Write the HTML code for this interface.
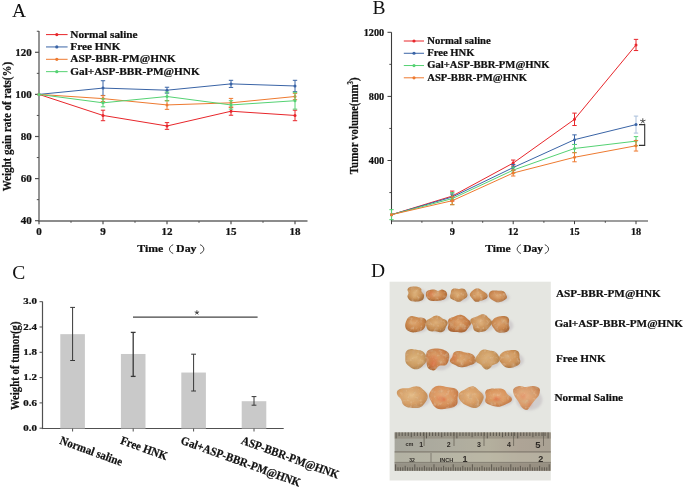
<!DOCTYPE html>
<html><head><meta charset="utf-8"><style>
html,body{margin:0;padding:0;background:#fff;}
svg{display:block;font-family:"Liberation Serif", serif;filter:blur(0.4px);}
</style></head><body>
<svg width="685" height="487" viewBox="0 0 685 487">
<rect width="685" height="487" fill="#fff"/>
<text transform="translate(12.00,16.80) scale(1.000,1)" font-size="19.5" font-weight="normal" text-anchor="start" fill="#111" >A</text>
<line x1="39.00" y1="31.00" x2="39.00" y2="221.60" stroke="#666" stroke-width="1.4" />
<line x1="38.40" y1="221.00" x2="307.50" y2="221.00" stroke="#666" stroke-width="1.4" />
<line x1="35.00" y1="220.70" x2="39.00" y2="220.70" stroke="#505050" stroke-width="1.2" />
<text transform="translate(31.80,224.00) scale(1.150,1)" font-size="9.6" font-weight="bold" text-anchor="end" fill="#111" stroke="#111" stroke-width="0.22" >40</text>
<line x1="35.00" y1="178.60" x2="39.00" y2="178.60" stroke="#505050" stroke-width="1.2" />
<text transform="translate(31.80,181.90) scale(1.150,1)" font-size="9.6" font-weight="bold" text-anchor="end" fill="#111" stroke="#111" stroke-width="0.22" >60</text>
<line x1="35.00" y1="136.50" x2="39.00" y2="136.50" stroke="#505050" stroke-width="1.2" />
<text transform="translate(31.80,139.80) scale(1.150,1)" font-size="9.6" font-weight="bold" text-anchor="end" fill="#111" stroke="#111" stroke-width="0.22" >80</text>
<line x1="35.00" y1="94.40" x2="39.00" y2="94.40" stroke="#505050" stroke-width="1.2" />
<text transform="translate(31.80,97.70) scale(1.150,1)" font-size="9.6" font-weight="bold" text-anchor="end" fill="#111" stroke="#111" stroke-width="0.22" >100</text>
<line x1="35.00" y1="52.30" x2="39.00" y2="52.30" stroke="#505050" stroke-width="1.2" />
<text transform="translate(31.80,55.60) scale(1.150,1)" font-size="9.6" font-weight="bold" text-anchor="end" fill="#111" stroke="#111" stroke-width="0.22" >120</text>
<line x1="36.80" y1="199.65" x2="39.00" y2="199.65" stroke="#505050" stroke-width="1.0" />
<line x1="36.80" y1="157.55" x2="39.00" y2="157.55" stroke="#505050" stroke-width="1.0" />
<line x1="36.80" y1="115.45" x2="39.00" y2="115.45" stroke="#505050" stroke-width="1.0" />
<line x1="36.80" y1="73.35" x2="39.00" y2="73.35" stroke="#505050" stroke-width="1.0" />
<line x1="36.80" y1="31.25" x2="39.00" y2="31.25" stroke="#505050" stroke-width="1.0" />
<line x1="39.00" y1="221.00" x2="39.00" y2="224.20" stroke="#505050" stroke-width="1.2" />
<text transform="translate(39.00,235.20) scale(1.150,1)" font-size="9.6" font-weight="bold" text-anchor="middle" fill="#111" stroke="#111" stroke-width="0.22" >0</text>
<line x1="103.00" y1="221.00" x2="103.00" y2="224.20" stroke="#505050" stroke-width="1.2" />
<text transform="translate(103.00,235.20) scale(1.150,1)" font-size="9.6" font-weight="bold" text-anchor="middle" fill="#111" stroke="#111" stroke-width="0.22" >9</text>
<line x1="167.00" y1="221.00" x2="167.00" y2="224.20" stroke="#505050" stroke-width="1.2" />
<text transform="translate(167.00,235.20) scale(1.150,1)" font-size="9.6" font-weight="bold" text-anchor="middle" fill="#111" stroke="#111" stroke-width="0.22" >12</text>
<line x1="231.00" y1="221.00" x2="231.00" y2="224.20" stroke="#505050" stroke-width="1.2" />
<text transform="translate(231.00,235.20) scale(1.150,1)" font-size="9.6" font-weight="bold" text-anchor="middle" fill="#111" stroke="#111" stroke-width="0.22" >15</text>
<line x1="295.00" y1="221.00" x2="295.00" y2="224.20" stroke="#505050" stroke-width="1.2" />
<text transform="translate(295.00,235.20) scale(1.150,1)" font-size="9.6" font-weight="bold" text-anchor="middle" fill="#111" stroke="#111" stroke-width="0.22" >18</text>
<line x1="71.00" y1="221.00" x2="71.00" y2="222.80" stroke="#505050" stroke-width="1.0" />
<line x1="135.00" y1="221.00" x2="135.00" y2="222.80" stroke="#505050" stroke-width="1.0" />
<line x1="199.00" y1="221.00" x2="199.00" y2="222.80" stroke="#505050" stroke-width="1.0" />
<line x1="263.00" y1="221.00" x2="263.00" y2="222.80" stroke="#505050" stroke-width="1.0" />
<text transform="translate(137.20,252.10) scale(1.080,1)" font-size="11.0" font-weight="bold" text-anchor="start" fill="#111" stroke="#111" stroke-width="0.22" >Time</text>
<path d="M173.20,244.70 C168.20,246.70 168.20,251.50 173.20,253.50" fill="none" stroke="#222" stroke-width="0.9"/>
<text transform="translate(176.10,252.10) scale(1.080,1)" font-size="11.0" font-weight="bold" text-anchor="start" fill="#111" stroke="#111" stroke-width="0.22" >Day</text>
<path d="M200.10,244.70 C205.10,246.70 205.10,251.50 200.10,253.50" fill="none" stroke="#222" stroke-width="0.9"/>
<text transform="translate(11.0,126.6) rotate(-90) scale(1.01,1.2)" font-size="10.9" font-weight="bold" text-anchor="middle" fill="#111" stroke="#111" stroke-width="0.2">Weight gain rate of rats(%)</text>
<polyline points="39.00,94.40 103.00,115.45 167.00,125.98 231.00,111.24 295.00,115.45" fill="none" stroke="#e8262b" stroke-width="1.0" stroke-linejoin="round"/>
<circle cx="39.00" cy="94.40" r="1.5" fill="#e8262b"/>
<line x1="103.00" y1="110.19" x2="103.00" y2="120.71" stroke="#e8262b" stroke-width="1.0" />
<line x1="100.80" y1="110.19" x2="105.20" y2="110.19" stroke="#e8262b" stroke-width="1.0" />
<line x1="100.80" y1="120.71" x2="105.20" y2="120.71" stroke="#e8262b" stroke-width="1.0" />
<circle cx="103.00" cy="115.45" r="1.5" fill="#e8262b"/>
<line x1="167.00" y1="122.61" x2="167.00" y2="129.34" stroke="#e8262b" stroke-width="1.0" />
<line x1="164.80" y1="122.61" x2="169.20" y2="122.61" stroke="#e8262b" stroke-width="1.0" />
<line x1="164.80" y1="129.34" x2="169.20" y2="129.34" stroke="#e8262b" stroke-width="1.0" />
<circle cx="167.00" cy="125.98" r="1.5" fill="#e8262b"/>
<line x1="231.00" y1="107.24" x2="231.00" y2="115.24" stroke="#e8262b" stroke-width="1.0" />
<line x1="228.80" y1="107.24" x2="233.20" y2="107.24" stroke="#e8262b" stroke-width="1.0" />
<line x1="228.80" y1="115.24" x2="233.20" y2="115.24" stroke="#e8262b" stroke-width="1.0" />
<circle cx="231.00" cy="111.24" r="1.5" fill="#e8262b"/>
<line x1="295.00" y1="110.19" x2="295.00" y2="120.71" stroke="#e8262b" stroke-width="1.0" />
<line x1="292.80" y1="110.19" x2="297.20" y2="110.19" stroke="#e8262b" stroke-width="1.0" />
<line x1="292.80" y1="120.71" x2="297.20" y2="120.71" stroke="#e8262b" stroke-width="1.0" />
<circle cx="295.00" cy="115.45" r="1.5" fill="#e8262b"/>
<polyline points="39.00,94.40 103.00,88.09 167.00,90.19 231.00,83.88 295.00,85.98" fill="none" stroke="#3a64a6" stroke-width="1.0" stroke-linejoin="round"/>
<circle cx="39.00" cy="94.40" r="1.5" fill="#3a64a6"/>
<line x1="103.00" y1="80.72" x2="103.00" y2="95.45" stroke="#3a64a6" stroke-width="1.0" />
<line x1="100.80" y1="80.72" x2="105.20" y2="80.72" stroke="#3a64a6" stroke-width="1.0" />
<line x1="100.80" y1="95.45" x2="105.20" y2="95.45" stroke="#3a64a6" stroke-width="1.0" />
<circle cx="103.00" cy="88.09" r="1.5" fill="#3a64a6"/>
<line x1="167.00" y1="87.24" x2="167.00" y2="93.14" stroke="#3a64a6" stroke-width="1.0" />
<line x1="164.80" y1="87.24" x2="169.20" y2="87.24" stroke="#3a64a6" stroke-width="1.0" />
<line x1="164.80" y1="93.14" x2="169.20" y2="93.14" stroke="#3a64a6" stroke-width="1.0" />
<circle cx="167.00" cy="90.19" r="1.5" fill="#3a64a6"/>
<line x1="231.00" y1="80.30" x2="231.00" y2="87.45" stroke="#3a64a6" stroke-width="1.0" />
<line x1="228.80" y1="80.30" x2="233.20" y2="80.30" stroke="#3a64a6" stroke-width="1.0" />
<line x1="228.80" y1="87.45" x2="233.20" y2="87.45" stroke="#3a64a6" stroke-width="1.0" />
<circle cx="231.00" cy="83.88" r="1.5" fill="#3a64a6"/>
<line x1="295.00" y1="80.30" x2="295.00" y2="91.66" stroke="#3a64a6" stroke-width="1.0" />
<line x1="292.80" y1="80.30" x2="297.20" y2="80.30" stroke="#3a64a6" stroke-width="1.0" />
<line x1="292.80" y1="91.66" x2="297.20" y2="91.66" stroke="#3a64a6" stroke-width="1.0" />
<circle cx="295.00" cy="85.98" r="1.5" fill="#3a64a6"/>
<polyline points="39.00,94.40 103.00,98.61 167.00,104.93 231.00,102.82 295.00,96.51" fill="none" stroke="#ee7a30" stroke-width="1.0" stroke-linejoin="round"/>
<circle cx="39.00" cy="94.40" r="1.5" fill="#ee7a30"/>
<line x1="103.00" y1="95.66" x2="103.00" y2="101.56" stroke="#ee7a30" stroke-width="1.0" />
<line x1="100.80" y1="95.66" x2="105.20" y2="95.66" stroke="#ee7a30" stroke-width="1.0" />
<line x1="100.80" y1="101.56" x2="105.20" y2="101.56" stroke="#ee7a30" stroke-width="1.0" />
<circle cx="103.00" cy="98.61" r="1.5" fill="#ee7a30"/>
<line x1="167.00" y1="100.50" x2="167.00" y2="109.35" stroke="#ee7a30" stroke-width="1.0" />
<line x1="164.80" y1="100.50" x2="169.20" y2="100.50" stroke="#ee7a30" stroke-width="1.0" />
<line x1="164.80" y1="109.35" x2="169.20" y2="109.35" stroke="#ee7a30" stroke-width="1.0" />
<circle cx="167.00" cy="104.93" r="1.5" fill="#ee7a30"/>
<line x1="231.00" y1="98.40" x2="231.00" y2="107.24" stroke="#ee7a30" stroke-width="1.0" />
<line x1="228.80" y1="98.40" x2="233.20" y2="98.40" stroke="#ee7a30" stroke-width="1.0" />
<line x1="228.80" y1="107.24" x2="233.20" y2="107.24" stroke="#ee7a30" stroke-width="1.0" />
<circle cx="231.00" cy="102.82" r="1.5" fill="#ee7a30"/>
<line x1="295.00" y1="93.35" x2="295.00" y2="99.66" stroke="#ee7a30" stroke-width="1.0" />
<line x1="292.80" y1="93.35" x2="297.20" y2="93.35" stroke="#ee7a30" stroke-width="1.0" />
<line x1="292.80" y1="99.66" x2="297.20" y2="99.66" stroke="#ee7a30" stroke-width="1.0" />
<circle cx="295.00" cy="96.51" r="1.5" fill="#ee7a30"/>
<polyline points="39.00,94.40 103.00,102.82 167.00,96.51 231.00,104.93 295.00,100.72" fill="none" stroke="#55d273" stroke-width="1.0" stroke-linejoin="round"/>
<circle cx="39.00" cy="94.40" r="1.5" fill="#55d273"/>
<line x1="103.00" y1="98.82" x2="103.00" y2="106.82" stroke="#55d273" stroke-width="1.0" />
<line x1="100.80" y1="98.82" x2="105.20" y2="98.82" stroke="#55d273" stroke-width="1.0" />
<line x1="100.80" y1="106.82" x2="105.20" y2="106.82" stroke="#55d273" stroke-width="1.0" />
<circle cx="103.00" cy="102.82" r="1.5" fill="#55d273"/>
<line x1="167.00" y1="92.08" x2="167.00" y2="100.93" stroke="#55d273" stroke-width="1.0" />
<line x1="164.80" y1="92.08" x2="169.20" y2="92.08" stroke="#55d273" stroke-width="1.0" />
<line x1="164.80" y1="100.93" x2="169.20" y2="100.93" stroke="#55d273" stroke-width="1.0" />
<circle cx="167.00" cy="96.51" r="1.5" fill="#55d273"/>
<line x1="231.00" y1="100.72" x2="231.00" y2="109.14" stroke="#55d273" stroke-width="1.0" />
<line x1="228.80" y1="100.72" x2="233.20" y2="100.72" stroke="#55d273" stroke-width="1.0" />
<line x1="228.80" y1="109.14" x2="233.20" y2="109.14" stroke="#55d273" stroke-width="1.0" />
<circle cx="231.00" cy="104.93" r="1.5" fill="#55d273"/>
<line x1="295.00" y1="92.30" x2="295.00" y2="109.14" stroke="#55d273" stroke-width="1.0" />
<line x1="292.80" y1="92.30" x2="297.20" y2="92.30" stroke="#55d273" stroke-width="1.0" />
<line x1="292.80" y1="109.14" x2="297.20" y2="109.14" stroke="#55d273" stroke-width="1.0" />
<circle cx="295.00" cy="100.72" r="1.5" fill="#55d273"/>
<line x1="46.00" y1="34.60" x2="67.60" y2="34.60" stroke="#e8262b" stroke-width="1.0" />
<circle cx="56.80" cy="34.60" r="1.6" fill="#e8262b"/>
<text transform="translate(70.30,37.60) scale(1.150,1)" font-size="9.8" font-weight="bold" text-anchor="start" fill="#111" stroke="#111" stroke-width="0.22" >Normal saline</text>
<line x1="46.00" y1="46.95" x2="67.60" y2="46.95" stroke="#3a64a6" stroke-width="1.0" />
<circle cx="56.80" cy="46.95" r="1.6" fill="#3a64a6"/>
<text transform="translate(70.30,49.95) scale(1.150,1)" font-size="9.8" font-weight="bold" text-anchor="start" fill="#111" stroke="#111" stroke-width="0.22" >Free HNK</text>
<line x1="46.00" y1="59.30" x2="67.60" y2="59.30" stroke="#ee7a30" stroke-width="1.0" />
<circle cx="56.80" cy="59.30" r="1.6" fill="#ee7a30"/>
<text transform="translate(70.30,62.30) scale(1.150,1)" font-size="9.8" font-weight="bold" text-anchor="start" fill="#111" stroke="#111" stroke-width="0.22" >ASP-BBR-PM@HNK</text>
<line x1="46.00" y1="71.65" x2="67.60" y2="71.65" stroke="#55d273" stroke-width="1.0" />
<circle cx="56.80" cy="71.65" r="1.6" fill="#55d273"/>
<text transform="translate(70.30,74.65) scale(1.150,1)" font-size="9.8" font-weight="bold" text-anchor="start" fill="#111" stroke="#111" stroke-width="0.22" >Gal+ASP-BBR-PM@HNK</text>
<text transform="translate(372.60,14.00) scale(1.000,1)" font-size="19.5" font-weight="normal" text-anchor="start" fill="#111" >B</text>
<line x1="391.50" y1="32.30" x2="391.50" y2="221.60" stroke="#3c3c3c" stroke-width="1.1" />
<line x1="390.90" y1="221.00" x2="648.00" y2="221.00" stroke="#3c3c3c" stroke-width="1.1" />
<line x1="387.50" y1="160.50" x2="391.50" y2="160.50" stroke="#3c3c3c" stroke-width="1.0" />
<text transform="translate(384.20,163.70) scale(1.080,1)" font-size="9.5" font-weight="bold" text-anchor="end" fill="#111" stroke="#111" stroke-width="0.22" >400</text>
<line x1="387.50" y1="96.40" x2="391.50" y2="96.40" stroke="#3c3c3c" stroke-width="1.0" />
<text transform="translate(384.20,99.60) scale(1.080,1)" font-size="9.5" font-weight="bold" text-anchor="end" fill="#111" stroke="#111" stroke-width="0.22" >800</text>
<line x1="387.50" y1="32.30" x2="391.50" y2="32.30" stroke="#3c3c3c" stroke-width="1.0" />
<text transform="translate(384.20,35.50) scale(1.080,1)" font-size="9.5" font-weight="bold" text-anchor="end" fill="#111" stroke="#111" stroke-width="0.22" >1200</text>
<line x1="389.30" y1="192.55" x2="391.50" y2="192.55" stroke="#3c3c3c" stroke-width="0.9" />
<line x1="389.30" y1="128.45" x2="391.50" y2="128.45" stroke="#3c3c3c" stroke-width="0.9" />
<line x1="389.30" y1="64.35" x2="391.50" y2="64.35" stroke="#3c3c3c" stroke-width="0.9" />
<line x1="391.50" y1="221.00" x2="391.50" y2="224.20" stroke="#3c3c3c" stroke-width="1.0" />
<line x1="452.20" y1="221.00" x2="452.20" y2="224.20" stroke="#3c3c3c" stroke-width="1.0" />
<text transform="translate(452.20,235.40) scale(1.080,1)" font-size="9.5" font-weight="bold" text-anchor="middle" fill="#111" stroke="#111" stroke-width="0.22" >9</text>
<line x1="513.20" y1="221.00" x2="513.20" y2="224.20" stroke="#3c3c3c" stroke-width="1.0" />
<text transform="translate(513.20,235.40) scale(1.080,1)" font-size="9.5" font-weight="bold" text-anchor="middle" fill="#111" stroke="#111" stroke-width="0.22" >12</text>
<line x1="574.50" y1="221.00" x2="574.50" y2="224.20" stroke="#3c3c3c" stroke-width="1.0" />
<text transform="translate(574.50,235.40) scale(1.080,1)" font-size="9.5" font-weight="bold" text-anchor="middle" fill="#111" stroke="#111" stroke-width="0.22" >15</text>
<line x1="636.00" y1="221.00" x2="636.00" y2="224.20" stroke="#3c3c3c" stroke-width="1.0" />
<text transform="translate(636.00,235.40) scale(1.080,1)" font-size="9.5" font-weight="bold" text-anchor="middle" fill="#111" stroke="#111" stroke-width="0.22" >18</text>
<line x1="421.90" y1="221.00" x2="421.90" y2="222.80" stroke="#3c3c3c" stroke-width="0.9" />
<line x1="482.70" y1="221.00" x2="482.70" y2="222.80" stroke="#3c3c3c" stroke-width="0.9" />
<line x1="543.90" y1="221.00" x2="543.90" y2="222.80" stroke="#3c3c3c" stroke-width="0.9" />
<line x1="605.30" y1="221.00" x2="605.30" y2="222.80" stroke="#3c3c3c" stroke-width="0.9" />
<text transform="translate(485.30,252.10) scale(1.050,1)" font-size="11.0" font-weight="bold" text-anchor="start" fill="#111" stroke="#111" stroke-width="0.22" >Time</text>
<path d="M520.90,244.70 C515.90,246.70 515.90,251.50 520.90,253.50" fill="none" stroke="#222" stroke-width="0.9"/>
<text transform="translate(523.20,252.10) scale(1.050,1)" font-size="11.0" font-weight="bold" text-anchor="start" fill="#111" stroke="#111" stroke-width="0.22" >Day</text>
<path d="M544.80,244.70 C549.80,246.70 549.80,251.50 544.80,253.50" fill="none" stroke="#222" stroke-width="0.9"/>
<text transform="translate(357.9,125.7) rotate(-90) scale(1.0,1.2)" font-size="10.9" font-weight="bold" text-anchor="middle" fill="#111" stroke="#111" stroke-width="0.2">Tumor volume(mm<tspan font-size="7" dy="-4">3</tspan><tspan dy="4">)</tspan></text>
<polyline points="391.50,214.66 452.20,196.08 513.20,163.06 574.50,119.32 636.00,44.96" fill="none" stroke="#e8262b" stroke-width="1.0" stroke-linejoin="round"/>
<circle cx="391.50" cy="214.66" r="1.5" fill="#e8262b"/>
<line x1="452.20" y1="191.08" x2="452.20" y2="201.08" stroke="#e8262b" stroke-width="1.0" />
<line x1="450.00" y1="191.08" x2="454.40" y2="191.08" stroke="#e8262b" stroke-width="1.0" />
<line x1="450.00" y1="201.08" x2="454.40" y2="201.08" stroke="#e8262b" stroke-width="1.0" />
<circle cx="452.20" cy="196.08" r="1.5" fill="#e8262b"/>
<line x1="513.20" y1="160.06" x2="513.20" y2="166.06" stroke="#e8262b" stroke-width="1.0" />
<line x1="511.00" y1="160.06" x2="515.40" y2="160.06" stroke="#e8262b" stroke-width="1.0" />
<line x1="511.00" y1="166.06" x2="515.40" y2="166.06" stroke="#e8262b" stroke-width="1.0" />
<circle cx="513.20" cy="163.06" r="1.5" fill="#e8262b"/>
<line x1="574.50" y1="113.12" x2="574.50" y2="125.52" stroke="#e8262b" stroke-width="1.0" />
<line x1="572.30" y1="113.12" x2="576.70" y2="113.12" stroke="#e8262b" stroke-width="1.0" />
<line x1="572.30" y1="125.52" x2="576.70" y2="125.52" stroke="#e8262b" stroke-width="1.0" />
<circle cx="574.50" cy="119.32" r="1.5" fill="#e8262b"/>
<line x1="636.00" y1="39.36" x2="636.00" y2="50.56" stroke="#e8262b" stroke-width="1.0" />
<line x1="633.80" y1="39.36" x2="638.20" y2="39.36" stroke="#e8262b" stroke-width="1.0" />
<line x1="633.80" y1="50.56" x2="638.20" y2="50.56" stroke="#e8262b" stroke-width="1.0" />
<circle cx="636.00" cy="44.96" r="1.5" fill="#e8262b"/>
<polyline points="391.50,214.66 452.20,197.04 513.20,167.55 574.50,139.67 636.00,124.60" fill="none" stroke="#3a64a6" stroke-width="1.0" stroke-linejoin="round"/>
<circle cx="391.50" cy="214.66" r="1.5" fill="#3a64a6"/>
<line x1="452.20" y1="194.04" x2="452.20" y2="200.04" stroke="#3a64a6" stroke-width="1.0" />
<line x1="450.00" y1="194.04" x2="454.40" y2="194.04" stroke="#3a64a6" stroke-width="1.0" />
<line x1="450.00" y1="200.04" x2="454.40" y2="200.04" stroke="#3a64a6" stroke-width="1.0" />
<circle cx="452.20" cy="197.04" r="1.5" fill="#3a64a6"/>
<line x1="513.20" y1="164.55" x2="513.20" y2="170.55" stroke="#3a64a6" stroke-width="1.0" />
<line x1="511.00" y1="164.55" x2="515.40" y2="164.55" stroke="#3a64a6" stroke-width="1.0" />
<line x1="511.00" y1="170.55" x2="515.40" y2="170.55" stroke="#3a64a6" stroke-width="1.0" />
<circle cx="513.20" cy="167.55" r="1.5" fill="#3a64a6"/>
<line x1="574.50" y1="134.87" x2="574.50" y2="144.47" stroke="#3a64a6" stroke-width="1.0" />
<line x1="572.30" y1="134.87" x2="576.70" y2="134.87" stroke="#3a64a6" stroke-width="1.0" />
<line x1="572.30" y1="144.47" x2="576.70" y2="144.47" stroke="#3a64a6" stroke-width="1.0" />
<circle cx="574.50" cy="139.67" r="1.5" fill="#3a64a6"/>
<line x1="636.00" y1="116.10" x2="636.00" y2="133.10" stroke="#a9bfdb" stroke-width="1.0" />
<line x1="633.80" y1="116.10" x2="638.20" y2="116.10" stroke="#a9bfdb" stroke-width="1.0" />
<line x1="633.80" y1="133.10" x2="638.20" y2="133.10" stroke="#a9bfdb" stroke-width="1.0" />
<circle cx="636.00" cy="124.60" r="1.5" fill="#3a64a6"/>
<polyline points="391.50,214.66 452.20,198.64 513.20,170.12 574.50,148.48 636.00,141.11" fill="none" stroke="#55d273" stroke-width="1.0" stroke-linejoin="round"/>
<line x1="391.50" y1="209.66" x2="391.50" y2="219.66" stroke="#55d273" stroke-width="1.0" />
<line x1="389.30" y1="209.66" x2="393.70" y2="209.66" stroke="#55d273" stroke-width="1.0" />
<line x1="389.30" y1="219.66" x2="393.70" y2="219.66" stroke="#55d273" stroke-width="1.0" />
<circle cx="391.50" cy="214.66" r="1.5" fill="#55d273"/>
<line x1="452.20" y1="192.64" x2="452.20" y2="204.64" stroke="#55d273" stroke-width="1.0" />
<line x1="450.00" y1="192.64" x2="454.40" y2="192.64" stroke="#55d273" stroke-width="1.0" />
<line x1="450.00" y1="204.64" x2="454.40" y2="204.64" stroke="#55d273" stroke-width="1.0" />
<circle cx="452.20" cy="198.64" r="1.5" fill="#55d273"/>
<line x1="513.20" y1="167.12" x2="513.20" y2="173.12" stroke="#55d273" stroke-width="1.0" />
<line x1="511.00" y1="167.12" x2="515.40" y2="167.12" stroke="#55d273" stroke-width="1.0" />
<line x1="511.00" y1="173.12" x2="515.40" y2="173.12" stroke="#55d273" stroke-width="1.0" />
<circle cx="513.20" cy="170.12" r="1.5" fill="#55d273"/>
<line x1="574.50" y1="144.48" x2="574.50" y2="152.48" stroke="#55d273" stroke-width="1.0" />
<line x1="572.30" y1="144.48" x2="576.70" y2="144.48" stroke="#55d273" stroke-width="1.0" />
<line x1="572.30" y1="152.48" x2="576.70" y2="152.48" stroke="#55d273" stroke-width="1.0" />
<circle cx="574.50" cy="148.48" r="1.5" fill="#55d273"/>
<line x1="636.00" y1="136.61" x2="636.00" y2="145.61" stroke="#55d273" stroke-width="1.0" />
<line x1="633.80" y1="136.61" x2="638.20" y2="136.61" stroke="#55d273" stroke-width="1.0" />
<line x1="633.80" y1="145.61" x2="638.20" y2="145.61" stroke="#55d273" stroke-width="1.0" />
<circle cx="636.00" cy="141.11" r="1.5" fill="#55d273"/>
<polyline points="391.50,214.66 452.20,200.72 513.20,173.00 574.50,157.29 636.00,145.76" fill="none" stroke="#ee7a30" stroke-width="1.0" stroke-linejoin="round"/>
<circle cx="391.50" cy="214.66" r="1.5" fill="#ee7a30"/>
<line x1="452.20" y1="196.72" x2="452.20" y2="204.72" stroke="#ee7a30" stroke-width="1.0" />
<line x1="450.00" y1="196.72" x2="454.40" y2="196.72" stroke="#ee7a30" stroke-width="1.0" />
<line x1="450.00" y1="204.72" x2="454.40" y2="204.72" stroke="#ee7a30" stroke-width="1.0" />
<circle cx="452.20" cy="200.72" r="1.5" fill="#ee7a30"/>
<line x1="513.20" y1="170.00" x2="513.20" y2="176.00" stroke="#ee7a30" stroke-width="1.0" />
<line x1="511.00" y1="170.00" x2="515.40" y2="170.00" stroke="#ee7a30" stroke-width="1.0" />
<line x1="511.00" y1="176.00" x2="515.40" y2="176.00" stroke="#ee7a30" stroke-width="1.0" />
<circle cx="513.20" cy="173.00" r="1.5" fill="#ee7a30"/>
<line x1="574.50" y1="152.79" x2="574.50" y2="161.79" stroke="#ee7a30" stroke-width="1.0" />
<line x1="572.30" y1="152.79" x2="576.70" y2="152.79" stroke="#ee7a30" stroke-width="1.0" />
<line x1="572.30" y1="161.79" x2="576.70" y2="161.79" stroke="#ee7a30" stroke-width="1.0" />
<circle cx="574.50" cy="157.29" r="1.5" fill="#ee7a30"/>
<line x1="636.00" y1="140.46" x2="636.00" y2="151.06" stroke="#ee7a30" stroke-width="1.0" />
<line x1="633.80" y1="140.46" x2="638.20" y2="140.46" stroke="#ee7a30" stroke-width="1.0" />
<line x1="633.80" y1="151.06" x2="638.20" y2="151.06" stroke="#ee7a30" stroke-width="1.0" />
<circle cx="636.00" cy="145.76" r="1.5" fill="#ee7a30"/>
<line x1="403.80" y1="41.00" x2="424.00" y2="41.00" stroke="#e8262b" stroke-width="1.0" />
<circle cx="414.00" cy="41.00" r="1.6" fill="#e8262b"/>
<text transform="translate(427.20,43.90) scale(1.110,1)" font-size="9.6" font-weight="bold" text-anchor="start" fill="#111" stroke="#111" stroke-width="0.22" >Normal saline</text>
<line x1="403.80" y1="53.27" x2="424.00" y2="53.27" stroke="#3a64a6" stroke-width="1.0" />
<circle cx="414.00" cy="53.27" r="1.6" fill="#3a64a6"/>
<text transform="translate(427.20,56.17) scale(1.110,1)" font-size="9.6" font-weight="bold" text-anchor="start" fill="#111" stroke="#111" stroke-width="0.22" >Free HNK</text>
<line x1="403.80" y1="65.54" x2="424.00" y2="65.54" stroke="#55d273" stroke-width="1.0" />
<circle cx="414.00" cy="65.54" r="1.6" fill="#55d273"/>
<text transform="translate(427.20,68.44) scale(1.110,1)" font-size="9.6" font-weight="bold" text-anchor="start" fill="#111" stroke="#111" stroke-width="0.22" >Gal+ASP-BBR-PM@HNK</text>
<line x1="403.80" y1="77.81" x2="424.00" y2="77.81" stroke="#ee7a30" stroke-width="1.0" />
<circle cx="414.00" cy="77.81" r="1.6" fill="#ee7a30"/>
<text transform="translate(427.20,80.71) scale(1.110,1)" font-size="9.6" font-weight="bold" text-anchor="start" fill="#111" stroke="#111" stroke-width="0.22" >ASP-BBR-PM@HNK</text>
<polyline points="639,124.6 644.7,124.6 644.7,145.4 639,145.4" fill="none" stroke="#333" stroke-width="1.1"/>
<path d="M642.80,121.10 L642.80,118.70 M642.80,121.10 L645.08,120.36 M642.80,121.10 L644.21,123.04 M642.80,121.10 L641.39,123.04 M642.80,121.10 L640.52,120.36 " stroke="#555" stroke-width="1.0" stroke-linecap="round" fill="none"/>
<text transform="translate(12.20,279.30) scale(1.000,1)" font-size="19.5" font-weight="normal" text-anchor="start" fill="#111" >C</text>
<line x1="42.50" y1="301.50" x2="42.50" y2="429.10" stroke="#505050" stroke-width="1.2" />
<line x1="41.90" y1="428.50" x2="283.70" y2="428.50" stroke="#505050" stroke-width="1.2" />
<line x1="39.50" y1="428.20" x2="42.50" y2="428.20" stroke="#505050" stroke-width="1.0" />
<text transform="translate(37.00,431.00) scale(1.300,1)" font-size="8.4" font-weight="bold" text-anchor="end" fill="#111" stroke="#111" stroke-width="0.22" >0.0</text>
<line x1="39.50" y1="402.90" x2="42.50" y2="402.90" stroke="#505050" stroke-width="1.0" />
<text transform="translate(37.00,405.70) scale(1.300,1)" font-size="8.4" font-weight="bold" text-anchor="end" fill="#111" stroke="#111" stroke-width="0.22" >0.6</text>
<line x1="39.50" y1="377.60" x2="42.50" y2="377.60" stroke="#505050" stroke-width="1.0" />
<text transform="translate(37.00,380.40) scale(1.300,1)" font-size="8.4" font-weight="bold" text-anchor="end" fill="#111" stroke="#111" stroke-width="0.22" >1.2</text>
<line x1="39.50" y1="352.29" x2="42.50" y2="352.29" stroke="#505050" stroke-width="1.0" />
<text transform="translate(37.00,355.09) scale(1.300,1)" font-size="8.4" font-weight="bold" text-anchor="end" fill="#111" stroke="#111" stroke-width="0.22" >1.8</text>
<line x1="39.50" y1="326.99" x2="42.50" y2="326.99" stroke="#505050" stroke-width="1.0" />
<text transform="translate(37.00,329.79) scale(1.300,1)" font-size="8.4" font-weight="bold" text-anchor="end" fill="#111" stroke="#111" stroke-width="0.22" >2.4</text>
<line x1="39.50" y1="301.69" x2="42.50" y2="301.69" stroke="#505050" stroke-width="1.0" />
<text transform="translate(37.00,304.49) scale(1.300,1)" font-size="8.4" font-weight="bold" text-anchor="end" fill="#111" stroke="#111" stroke-width="0.22" >3.0</text>
<rect x="60.30" y="334.16" width="24.6" height="94.34" fill="#c9c9c9"/>
<rect x="120.90" y="353.98" width="24.6" height="74.52" fill="#c9c9c9"/>
<rect x="181.30" y="372.54" width="24.6" height="55.96" fill="#c9c9c9"/>
<rect x="241.70" y="401.21" width="24.6" height="27.29" fill="#c9c9c9"/>
<line x1="72.60" y1="307.40" x2="72.60" y2="360.50" stroke="#383838" stroke-width="1.0" />
<line x1="70.20" y1="307.40" x2="75.00" y2="307.40" stroke="#383838" stroke-width="1.0" />
<line x1="70.20" y1="360.50" x2="75.00" y2="360.50" stroke="#383838" stroke-width="1.0" />
<line x1="72.60" y1="428.50" x2="72.60" y2="431.50" stroke="#505050" stroke-width="1.0" />
<line x1="133.20" y1="332.40" x2="133.20" y2="376.40" stroke="#383838" stroke-width="1.3" />
<line x1="130.80" y1="332.40" x2="135.60" y2="332.40" stroke="#383838" stroke-width="1.3" />
<line x1="130.80" y1="376.40" x2="135.60" y2="376.40" stroke="#383838" stroke-width="1.3" />
<line x1="133.20" y1="428.50" x2="133.20" y2="431.50" stroke="#505050" stroke-width="1.0" />
<line x1="193.60" y1="354.20" x2="193.60" y2="391.00" stroke="#383838" stroke-width="1.0" />
<line x1="191.20" y1="354.20" x2="196.00" y2="354.20" stroke="#383838" stroke-width="1.0" />
<line x1="191.20" y1="391.00" x2="196.00" y2="391.00" stroke="#383838" stroke-width="1.0" />
<line x1="193.60" y1="428.50" x2="193.60" y2="431.50" stroke="#505050" stroke-width="1.0" />
<line x1="254.00" y1="396.60" x2="254.00" y2="405.20" stroke="#383838" stroke-width="1.0" />
<line x1="251.60" y1="396.60" x2="256.40" y2="396.60" stroke="#383838" stroke-width="1.0" />
<line x1="251.60" y1="405.20" x2="256.40" y2="405.20" stroke="#383838" stroke-width="1.0" />
<line x1="254.00" y1="428.50" x2="254.00" y2="431.50" stroke="#505050" stroke-width="1.0" />
<line x1="133.00" y1="317.20" x2="257.60" y2="317.20" stroke="#444" stroke-width="1.3" />
<path d="M196.90,312.60 L196.90,310.70 M196.90,312.60 L198.71,312.01 M196.90,312.60 L198.02,314.14 M196.90,312.60 L195.78,314.14 M196.90,312.60 L195.09,312.01 " stroke="#444" stroke-width="1.0" stroke-linecap="round" fill="none"/>
<text transform="translate(18.8,365.8) rotate(-90) scale(1.0,1.2)" font-size="10.8" font-weight="bold" text-anchor="middle" fill="#111" stroke="#111" stroke-width="0.2">Weight of tumor(g)</text>
<text transform="translate(59.10,443.5) rotate(20) scale(1,1.08)" font-size="11.0" font-weight="bold" fill="#111" stroke="#111" stroke-width="0.2">Normal saline</text>
<text transform="translate(119.70,443.5) rotate(20) scale(1,1.08)" font-size="11.0" font-weight="bold" fill="#111" stroke="#111" stroke-width="0.2">Free HNK</text>
<text transform="translate(180.10,443.5) rotate(20) scale(1,1.08)" font-size="11.0" font-weight="bold" fill="#111" stroke="#111" stroke-width="0.2">Gal+ASP-BBR-PM@HNK</text>
<text transform="translate(240.50,443.5) rotate(20) scale(1,1.08)" font-size="11.0" font-weight="bold" fill="#111" stroke="#111" stroke-width="0.2">ASP-BBR-PM@HNK</text>
<text transform="translate(371.00,276.60) scale(1.000,1)" font-size="19.5" font-weight="normal" text-anchor="start" fill="#111" >D</text>
<defs><linearGradient id="bgD" x1="0" y1="0" x2="1" y2="0"><stop offset="0" stop-color="#dcded8"/><stop offset="0.15" stop-color="#e4e5e0"/><stop offset="1" stop-color="#e8e9e4"/></linearGradient><radialGradient id="tA" cx="0.45" cy="0.4" r="0.65"><stop offset="0" stop-color="#e6bb8c"/><stop offset="0.6" stop-color="#d9a070"/><stop offset="1" stop-color="#c07a48"/></radialGradient><radialGradient id="tB" cx="0.5" cy="0.45" r="0.65"><stop offset="0" stop-color="#e4a878"/><stop offset="0.55" stop-color="#d8864e"/><stop offset="1" stop-color="#c26a3a"/></radialGradient><radialGradient id="tC" cx="0.45" cy="0.4" r="0.65"><stop offset="0" stop-color="#e8c08c"/><stop offset="0.6" stop-color="#dca472"/><stop offset="1" stop-color="#c88050"/></radialGradient><radialGradient id="tD" cx="0.5" cy="0.45" r="0.65"><stop offset="0" stop-color="#eec49a"/><stop offset="0.6" stop-color="#e2a87c"/><stop offset="1" stop-color="#cf8a5c"/></radialGradient><linearGradient id="rul" x1="0" y1="0" x2="1" y2="0"><stop offset="0" stop-color="#a6a69c"/><stop offset="0.35" stop-color="#aeac9f"/><stop offset="0.6" stop-color="#b4b09e"/><stop offset="0.8" stop-color="#aea496"/><stop offset="1" stop-color="#aaa294"/></linearGradient><filter id="blr" x="-20%" y="-20%" width="140%" height="140%"><feGaussianBlur stdDeviation="1.2"/></filter></defs>
<rect x="389.6" y="281.7" width="161.2" height="198.8" fill="#e5e6e1"/>
<defs><filter id="tex" x="0" y="0" width="100%" height="100%"><feTurbulence type="fractalNoise" baseFrequency="0.3" numOctaves="2" seed="5" result="n"/><feGaussianBlur in="n" stdDeviation="0.5" result="nb"/><feColorMatrix in="nb" type="matrix" values="0 0 0 0 0.9  0 0 0 0 0.74  0 0 0 0 0.5  0 0 0 0.8 -0.45" result="hl"/><feComposite in="hl" in2="SourceGraphic" operator="in" result="hl2"/><feTurbulence type="fractalNoise" baseFrequency="0.2" numOctaves="2" seed="11" result="n2"/><feGaussianBlur in="n2" stdDeviation="0.6" result="n2b"/><feColorMatrix in="n2b" type="matrix" values="0 0 0 0 0.62  0 0 0 0 0.38  0 0 0 0 0.2  0 0 0 1.8 -0.9" result="dk"/><feComposite in="dk" in2="SourceGraphic" operator="in" result="dk2"/><feMerge><feMergeNode in="SourceGraphic"/><feMergeNode in="dk2"/><feMergeNode in="hl2"/></feMerge></filter></defs>
<ellipse cx="418.75" cy="295.35" rx="8.45" ry="6.50" fill="#bdb6bc" opacity="0.5" filter="url(#blr)"/>
<ellipse cx="439.50" cy="296.75" rx="10.50" ry="4.89" fill="#bdb6bc" opacity="0.5" filter="url(#blr)"/>
<ellipse cx="461.50" cy="296.25" rx="8.50" ry="5.74" fill="#bdb6bc" opacity="0.5" filter="url(#blr)"/>
<ellipse cx="481.40" cy="296.75" rx="8.40" ry="5.31" fill="#bdb6bc" opacity="0.5" filter="url(#blr)"/>
<ellipse cx="500.80" cy="297.50" rx="8.80" ry="5.10" fill="#bdb6bc" opacity="0.5" filter="url(#blr)"/>
<defs><radialGradient id="g1" cx="0.45" cy="0.42" r="0.62"><stop offset="0" stop-color="#dcb07a"/><stop offset="0.62" stop-color="#c89258"/><stop offset="1" stop-color="#a06a3a"/></radialGradient></defs>
<path d="M410.00,287.00 C411.42,286.50 414.17,286.25 416.00,286.50 C417.83,286.75 420.08,287.67 421.00,288.50 C421.92,289.33 421.00,290.42 421.50,291.50 C422.00,292.58 423.75,293.67 424.00,295.00 C424.25,296.33 424.00,298.42 423.00,299.50 C422.00,300.58 420.00,301.25 418.00,301.50 C416.00,301.75 412.75,301.75 411.00,301.00 C409.25,300.25 407.92,298.33 407.50,297.00 C407.08,295.67 408.50,294.25 408.50,293.00 C408.50,291.75 407.25,290.50 407.50,289.50 C407.75,288.50 408.58,287.50 410.00,287.00 Z" fill="url(#g1)" filter="url(#tex)"/>
<ellipse cx="417.31" cy="290.68" rx="1.48" ry="1.52" fill="#eccb98" opacity="0.2" filter="url(#blr2)"/>
<ellipse cx="414.30" cy="296.32" rx="2.27" ry="1.78" fill="#eccb98" opacity="0.2" filter="url(#blr2)"/>
<ellipse cx="415.03" cy="295.73" rx="1.99" ry="1.74" fill="#eccb98" opacity="0.2" filter="url(#blr2)"/>
<defs><radialGradient id="g2" cx="0.45" cy="0.42" r="0.62"><stop offset="0" stop-color="#dca472"/><stop offset="0.62" stop-color="#c8844c"/><stop offset="1" stop-color="#a26030"/></radialGradient></defs>
<path d="M428.00,290.50 C429.33,289.92 432.33,289.42 434.00,289.50 C435.67,289.58 436.67,291.00 438.00,291.00 C439.33,291.00 440.67,289.42 442.00,289.50 C443.33,289.58 445.17,290.50 446.00,291.50 C446.83,292.50 447.33,294.17 447.00,295.50 C446.67,296.83 445.67,298.58 444.00,299.50 C442.33,300.42 439.33,300.83 437.00,301.00 C434.67,301.17 431.75,301.17 430.00,300.50 C428.25,299.83 427.17,298.25 426.50,297.00 C425.83,295.75 425.75,294.08 426.00,293.00 C426.25,291.92 426.67,291.08 428.00,290.50 Z" fill="url(#g2)" filter="url(#tex)"/>
<ellipse cx="432.78" cy="294.73" rx="2.79" ry="1.22" fill="#eccb98" opacity="0.2" filter="url(#blr2)"/>
<ellipse cx="438.94" cy="294.62" rx="2.84" ry="1.09" fill="#eccb98" opacity="0.2" filter="url(#blr2)"/>
<ellipse cx="432.09" cy="294.73" rx="1.65" ry="1.39" fill="#eccb98" opacity="0.2" filter="url(#blr2)"/>
<defs><radialGradient id="g3" cx="0.45" cy="0.42" r="0.62"><stop offset="0" stop-color="#dcac76"/><stop offset="0.62" stop-color="#c88e56"/><stop offset="1" stop-color="#a06c3c"/></radialGradient></defs>
<path d="M467.42,294.75 C467.46,295.27 467.45,295.85 467.24,296.33 C467.03,296.82 466.60,297.30 466.17,297.68 C465.73,298.07 465.13,298.34 464.65,298.64 C464.16,298.94 463.70,299.18 463.26,299.49 C462.82,299.81 462.47,300.19 462.00,300.52 C461.53,300.85 461.02,301.27 460.44,301.49 C459.86,301.72 459.14,301.86 458.50,301.85 C457.86,301.83 457.18,301.61 456.59,301.41 C455.99,301.20 455.48,300.87 454.94,300.61 C454.40,300.36 453.89,300.14 453.34,299.89 C452.79,299.64 452.14,299.43 451.63,299.10 C451.12,298.77 450.57,298.36 450.28,297.89 C449.99,297.43 449.88,296.84 449.89,296.31 C449.89,295.79 450.16,295.24 450.31,294.75 C450.46,294.26 450.68,293.83 450.79,293.35 C450.91,292.87 450.88,292.39 450.97,291.87 C451.07,291.35 451.10,290.73 451.38,290.24 C451.66,289.75 452.12,289.24 452.68,288.95 C453.23,288.66 454.04,288.55 454.72,288.52 C455.41,288.49 456.15,288.69 456.78,288.76 C457.41,288.83 457.92,288.95 458.50,288.94 C459.08,288.94 459.61,288.79 460.23,288.73 C460.85,288.67 461.59,288.51 462.25,288.57 C462.91,288.63 463.65,288.79 464.20,289.08 C464.75,289.36 465.20,289.84 465.55,290.28 C465.91,290.73 466.11,291.26 466.34,291.75 C466.57,292.24 466.78,292.72 466.96,293.22 C467.14,293.72 467.37,294.23 467.42,294.75 Z" fill="url(#g3)" filter="url(#tex)"/>
<ellipse cx="456.93" cy="296.05" rx="1.39" ry="1.06" fill="#eccb98" opacity="0.2" filter="url(#blr2)"/>
<ellipse cx="457.57" cy="296.82" rx="1.72" ry="1.33" fill="#eccb98" opacity="0.2" filter="url(#blr2)"/>
<ellipse cx="455.10" cy="292.42" rx="2.17" ry="1.30" fill="#eccb98" opacity="0.2" filter="url(#blr2)"/>
<defs><radialGradient id="g4" cx="0.45" cy="0.42" r="0.62"><stop offset="0" stop-color="#dca872"/><stop offset="0.62" stop-color="#c88a52"/><stop offset="1" stop-color="#a26838"/></radialGradient></defs>
<path d="M487.49,295.25 C487.63,295.74 487.67,296.31 487.54,296.80 C487.40,297.30 487.09,297.81 486.69,298.22 C486.30,298.63 485.72,298.98 485.18,299.27 C484.63,299.56 484.00,299.74 483.44,299.95 C482.87,300.15 482.33,300.30 481.80,300.50 C481.26,300.69 480.77,300.92 480.20,301.12 C479.63,301.31 479.03,301.56 478.40,301.67 C477.77,301.78 477.04,301.84 476.40,301.76 C475.77,301.67 475.11,301.43 474.59,301.14 C474.07,300.85 473.65,300.41 473.29,300.02 C472.92,299.64 472.68,299.21 472.38,298.82 C472.08,298.44 471.80,298.10 471.49,297.72 C471.19,297.35 470.80,297.00 470.54,296.59 C470.27,296.17 469.99,295.71 469.89,295.25 C469.80,294.79 469.84,294.28 469.98,293.82 C470.12,293.36 470.44,292.92 470.75,292.51 C471.06,292.10 471.46,291.73 471.84,291.36 C472.22,290.98 472.59,290.60 473.03,290.24 C473.47,289.88 473.92,289.48 474.48,289.19 C475.03,288.90 475.68,288.62 476.33,288.50 C476.98,288.39 477.74,288.40 478.40,288.51 C479.06,288.62 479.71,288.90 480.26,289.17 C480.82,289.44 481.27,289.82 481.71,290.14 C482.15,290.45 482.49,290.77 482.89,291.06 C483.29,291.35 483.68,291.59 484.10,291.87 C484.53,292.14 485.00,292.40 485.43,292.73 C485.86,293.06 486.34,293.42 486.68,293.84 C487.02,294.26 487.35,294.76 487.49,295.25 Z" fill="url(#g4)" filter="url(#tex)"/>
<ellipse cx="474.65" cy="297.20" rx="1.52" ry="0.91" fill="#eccb98" opacity="0.2" filter="url(#blr2)"/>
<ellipse cx="478.40" cy="295.56" rx="2.51" ry="0.99" fill="#eccb98" opacity="0.2" filter="url(#blr2)"/>
<ellipse cx="478.06" cy="293.16" rx="1.79" ry="1.01" fill="#eccb98" opacity="0.2" filter="url(#blr2)"/>
<defs><radialGradient id="g5" cx="0.45" cy="0.42" r="0.62"><stop offset="0" stop-color="#dca470"/><stop offset="0.62" stop-color="#c88650"/><stop offset="1" stop-color="#a26434"/></radialGradient></defs>
<path d="M506.73,296.00 C506.87,296.45 507.01,296.96 506.93,297.42 C506.85,297.88 506.60,298.37 506.25,298.77 C505.90,299.18 505.35,299.52 504.85,299.83 C504.34,300.14 503.77,300.38 503.23,300.64 C502.69,300.90 502.18,301.16 501.62,301.40 C501.05,301.64 500.47,301.92 499.83,302.07 C499.20,302.22 498.47,302.33 497.80,302.31 C497.13,302.28 496.42,302.11 495.82,301.90 C495.23,301.70 494.71,301.36 494.22,301.07 C493.73,300.79 493.33,300.48 492.89,300.20 C492.45,299.92 492.00,299.68 491.56,299.39 C491.12,299.11 490.62,298.83 490.24,298.48 C489.86,298.14 489.51,297.74 489.28,297.33 C489.05,296.91 488.93,296.45 488.86,296.00 C488.79,295.55 488.80,295.08 488.85,294.61 C488.90,294.13 488.97,293.64 489.17,293.17 C489.37,292.70 489.63,292.18 490.06,291.79 C490.48,291.40 491.08,291.02 491.72,290.80 C492.36,290.58 493.18,290.50 493.89,290.47 C494.60,290.43 495.34,290.56 495.99,290.60 C496.65,290.65 497.20,290.73 497.80,290.74 C498.40,290.75 498.96,290.68 499.58,290.67 C500.21,290.66 500.92,290.60 501.55,290.69 C502.19,290.77 502.88,290.94 503.41,291.20 C503.94,291.46 504.36,291.87 504.71,292.25 C505.05,292.63 505.23,293.07 505.46,293.48 C505.70,293.89 505.89,294.29 506.10,294.71 C506.31,295.13 506.59,295.55 506.73,296.00 Z" fill="url(#g5)" filter="url(#tex)"/>
<ellipse cx="498.34" cy="297.79" rx="2.33" ry="1.48" fill="#eccb98" opacity="0.2" filter="url(#blr2)"/>
<ellipse cx="498.31" cy="295.84" rx="1.62" ry="0.96" fill="#eccb98" opacity="0.2" filter="url(#blr2)"/>
<ellipse cx="501.53" cy="295.95" rx="2.64" ry="1.45" fill="#eccb98" opacity="0.2" filter="url(#blr2)"/>
<ellipse cx="418.45" cy="325.75" rx="10.55" ry="7.01" fill="#bdb6bc" opacity="0.5" filter="url(#blr)"/>
<ellipse cx="439.50" cy="325.75" rx="10.50" ry="7.01" fill="#bdb6bc" opacity="0.5" filter="url(#blr)"/>
<ellipse cx="461.80" cy="325.50" rx="11.80" ry="7.22" fill="#bdb6bc" opacity="0.5" filter="url(#blr)"/>
<ellipse cx="484.15" cy="324.75" rx="10.55" ry="7.01" fill="#bdb6bc" opacity="0.5" filter="url(#blr)"/>
<ellipse cx="504.00" cy="325.75" rx="9.30" ry="7.01" fill="#bdb6bc" opacity="0.5" filter="url(#blr)"/>
<defs><radialGradient id="g6" cx="0.45" cy="0.42" r="0.62"><stop offset="0" stop-color="#dca26c"/><stop offset="0.62" stop-color="#c8864c"/><stop offset="1" stop-color="#a26434"/></radialGradient></defs>
<path d="M426.15,324.25 C425.97,324.88 425.71,325.46 425.46,326.04 C425.21,326.61 424.97,327.17 424.63,327.71 C424.30,328.24 423.92,328.78 423.45,329.24 C422.97,329.69 422.39,330.11 421.77,330.45 C421.16,330.79 420.46,331.04 419.78,331.28 C419.09,331.51 418.39,331.68 417.67,331.85 C416.95,332.01 416.22,332.17 415.45,332.27 C414.68,332.36 413.87,332.45 413.07,332.42 C412.26,332.38 411.41,332.28 410.64,332.06 C409.87,331.84 409.10,331.51 408.46,331.11 C407.81,330.71 407.23,330.20 406.76,329.67 C406.29,329.14 405.92,328.54 405.65,327.94 C405.39,327.34 405.24,326.70 405.17,326.08 C405.11,325.47 405.17,324.85 405.26,324.25 C405.35,323.65 405.54,323.09 405.72,322.51 C405.90,321.94 406.09,321.39 406.33,320.81 C406.56,320.24 406.77,319.63 407.14,319.06 C407.50,318.50 407.91,317.88 408.49,317.42 C409.06,316.97 409.81,316.55 410.58,316.34 C411.34,316.13 412.27,316.10 413.08,316.14 C413.90,316.19 414.71,316.46 415.45,316.63 C416.19,316.80 416.81,317.05 417.51,317.18 C418.21,317.32 418.87,317.36 419.63,317.45 C420.40,317.55 421.28,317.54 422.10,317.73 C422.91,317.92 423.85,318.18 424.52,318.60 C425.19,319.01 425.79,319.62 426.13,320.23 C426.47,320.84 426.56,321.60 426.56,322.27 C426.56,322.94 426.34,323.62 426.15,324.25 Z" fill="url(#g6)" filter="url(#tex)"/>
<ellipse cx="410.85" cy="321.54" rx="1.70" ry="1.56" fill="#eccb98" opacity="0.2" filter="url(#blr2)"/>
<ellipse cx="412.57" cy="323.29" rx="3.05" ry="1.56" fill="#eccb98" opacity="0.2" filter="url(#blr2)"/>
<ellipse cx="410.44" cy="322.56" rx="2.44" ry="1.10" fill="#eccb98" opacity="0.2" filter="url(#blr2)"/>
<defs><radialGradient id="g7" cx="0.45" cy="0.42" r="0.62"><stop offset="0" stop-color="#dcac76"/><stop offset="0.62" stop-color="#c89056"/><stop offset="1" stop-color="#a06c3c"/></radialGradient></defs>
<path d="M447.43,324.25 C447.22,324.88 446.72,325.46 446.42,326.03 C446.11,326.60 445.83,327.10 445.58,327.69 C445.33,328.27 445.25,328.93 444.93,329.53 C444.61,330.13 444.23,330.84 443.64,331.28 C443.04,331.73 442.18,332.07 441.37,332.19 C440.55,332.31 439.57,332.14 438.76,332.02 C437.95,331.91 437.22,331.60 436.50,331.49 C435.78,331.37 435.18,331.34 434.44,331.34 C433.71,331.33 432.90,331.49 432.09,331.44 C431.29,331.38 430.35,331.31 429.63,331.02 C428.91,330.73 428.25,330.23 427.79,329.71 C427.32,329.19 427.09,328.51 426.84,327.91 C426.59,327.30 426.48,326.69 426.30,326.08 C426.13,325.47 425.88,324.88 425.78,324.25 C425.68,323.62 425.55,322.93 425.70,322.31 C425.84,321.69 426.18,321.04 426.64,320.52 C427.10,320.00 427.83,319.59 428.46,319.21 C429.09,318.83 429.79,318.59 430.41,318.25 C431.02,317.90 431.54,317.54 432.16,317.17 C432.78,316.80 433.39,316.30 434.11,316.02 C434.83,315.74 435.70,315.48 436.50,315.48 C437.30,315.49 438.17,315.74 438.88,316.04 C439.59,316.35 440.18,316.89 440.76,317.29 C441.35,317.69 441.80,318.10 442.40,318.44 C443.00,318.78 443.69,318.98 444.36,319.32 C445.04,319.66 445.91,320.00 446.46,320.48 C447.01,320.97 447.50,321.62 447.66,322.25 C447.83,322.88 447.64,323.62 447.43,324.25 Z" fill="url(#g7)" filter="url(#tex)"/>
<ellipse cx="431.83" cy="324.88" rx="2.83" ry="1.04" fill="#eccb98" opacity="0.2" filter="url(#blr2)"/>
<ellipse cx="441.67" cy="324.66" rx="1.77" ry="1.73" fill="#eccb98" opacity="0.2" filter="url(#blr2)"/>
<ellipse cx="437.15" cy="322.98" rx="2.04" ry="1.47" fill="#eccb98" opacity="0.2" filter="url(#blr2)"/>
<defs><radialGradient id="g8" cx="0.45" cy="0.42" r="0.62"><stop offset="0" stop-color="#dc9e68"/><stop offset="0.62" stop-color="#c88048"/><stop offset="1" stop-color="#a26032"/></radialGradient></defs>
<path d="M470.89,324.00 C470.77,324.63 470.33,325.27 469.96,325.83 C469.58,326.40 469.05,326.89 468.64,327.41 C468.23,327.94 467.91,328.46 467.51,329.00 C467.10,329.55 466.76,330.19 466.20,330.68 C465.63,331.18 464.92,331.69 464.13,331.97 C463.34,332.25 462.34,332.35 461.46,332.38 C460.57,332.41 459.66,332.22 458.80,332.14 C457.94,332.07 457.17,331.98 456.28,331.95 C455.40,331.91 454.45,332.01 453.50,331.93 C452.54,331.85 451.39,331.79 450.53,331.47 C449.68,331.14 448.84,330.60 448.38,329.99 C447.92,329.38 447.81,328.53 447.79,327.82 C447.76,327.11 448.12,326.37 448.23,325.74 C448.35,325.10 448.49,324.58 448.48,324.00 C448.47,323.42 448.22,322.87 448.17,322.25 C448.12,321.64 447.98,320.93 448.19,320.32 C448.39,319.71 448.83,319.07 449.39,318.60 C449.96,318.12 450.81,317.78 451.56,317.46 C452.31,317.14 453.13,316.95 453.90,316.67 C454.67,316.39 455.38,316.08 456.20,315.79 C457.02,315.51 457.89,315.13 458.80,314.98 C459.71,314.83 460.78,314.75 461.68,314.91 C462.59,315.06 463.49,315.46 464.22,315.89 C464.95,316.31 465.50,316.93 466.06,317.44 C466.62,317.95 467.06,318.46 467.60,318.95 C468.13,319.44 468.75,319.86 469.25,320.37 C469.76,320.89 470.35,321.45 470.62,322.06 C470.90,322.66 471.00,323.37 470.89,324.00 Z" fill="url(#g8)" filter="url(#tex)"/>
<ellipse cx="458.70" cy="322.17" rx="1.89" ry="1.80" fill="#eccb98" opacity="0.2" filter="url(#blr2)"/>
<ellipse cx="457.71" cy="326.45" rx="2.71" ry="1.43" fill="#eccb98" opacity="0.2" filter="url(#blr2)"/>
<ellipse cx="461.69" cy="324.80" rx="2.00" ry="2.08" fill="#eccb98" opacity="0.2" filter="url(#blr2)"/>
<defs><radialGradient id="g9" cx="0.45" cy="0.42" r="0.62"><stop offset="0" stop-color="#dcac78"/><stop offset="0.62" stop-color="#c89058"/><stop offset="1" stop-color="#a06c3c"/></radialGradient></defs>
<path d="M491.96,323.25 C491.84,323.86 491.43,324.48 491.06,325.02 C490.70,325.56 490.19,326.02 489.78,326.50 C489.37,326.98 489.00,327.42 488.60,327.90 C488.20,328.37 487.85,328.89 487.37,329.35 C486.89,329.82 486.35,330.30 485.72,330.68 C485.09,331.05 484.35,331.37 483.59,331.61 C482.83,331.85 481.99,332.01 481.15,332.10 C480.31,332.20 479.40,332.25 478.55,332.16 C477.69,332.08 476.76,331.91 476.02,331.57 C475.28,331.24 474.58,330.72 474.11,330.16 C473.64,329.60 473.40,328.84 473.20,328.21 C473.01,327.57 473.07,326.91 472.94,326.34 C472.80,325.78 472.67,325.33 472.39,324.81 C472.10,324.30 471.57,323.83 471.22,323.25 C470.86,322.67 470.36,321.96 470.27,321.31 C470.19,320.65 470.32,319.88 470.71,319.32 C471.10,318.75 471.90,318.28 472.61,317.93 C473.33,317.58 474.26,317.44 474.99,317.21 C475.72,316.97 476.36,316.82 477.01,316.53 C477.66,316.23 478.18,315.80 478.87,315.45 C479.56,315.10 480.34,314.62 481.15,314.44 C481.96,314.25 482.94,314.19 483.75,314.34 C484.56,314.50 485.36,314.94 486.01,315.36 C486.66,315.78 487.14,316.38 487.65,316.88 C488.16,317.37 488.59,317.83 489.09,318.30 C489.58,318.77 490.17,319.18 490.62,319.68 C491.07,320.19 491.58,320.75 491.81,321.35 C492.03,321.94 492.08,322.64 491.96,323.25 Z" fill="url(#g9)" filter="url(#tex)"/>
<ellipse cx="480.75" cy="324.36" rx="2.19" ry="1.20" fill="#eccb98" opacity="0.2" filter="url(#blr2)"/>
<ellipse cx="481.75" cy="324.36" rx="2.28" ry="1.30" fill="#eccb98" opacity="0.2" filter="url(#blr2)"/>
<ellipse cx="479.34" cy="321.04" rx="2.35" ry="1.90" fill="#eccb98" opacity="0.2" filter="url(#blr2)"/>
<defs><radialGradient id="g10" cx="0.45" cy="0.42" r="0.62"><stop offset="0" stop-color="#dca26e"/><stop offset="0.62" stop-color="#c8864e"/><stop offset="1" stop-color="#a26436"/></radialGradient></defs>
<path d="M508.70,324.25 C508.75,324.79 508.99,325.29 509.12,325.89 C509.24,326.50 509.49,327.20 509.47,327.87 C509.44,328.53 509.30,329.30 508.96,329.88 C508.62,330.47 508.02,331.00 507.41,331.38 C506.80,331.76 506.01,331.98 505.30,332.16 C504.58,332.35 503.84,332.42 503.12,332.50 C502.41,332.58 501.71,332.65 501.00,332.64 C500.29,332.64 499.56,332.62 498.89,332.46 C498.21,332.31 497.52,332.06 496.94,331.73 C496.36,331.40 495.85,330.93 495.40,330.48 C494.95,330.03 494.60,329.52 494.23,329.04 C493.86,328.56 493.52,328.09 493.19,327.59 C492.85,327.09 492.47,326.59 492.20,326.03 C491.92,325.48 491.65,324.86 491.56,324.25 C491.46,323.64 491.47,322.96 491.61,322.35 C491.75,321.74 492.05,321.12 492.39,320.57 C492.73,320.02 493.19,319.52 493.67,319.06 C494.14,318.61 494.68,318.20 495.25,317.85 C495.81,317.50 496.42,317.20 497.04,316.96 C497.67,316.72 498.33,316.56 498.98,316.42 C499.64,316.28 500.31,316.20 501.00,316.13 C501.69,316.06 502.39,315.99 503.12,316.00 C503.85,316.02 504.65,316.02 505.37,316.20 C506.09,316.38 506.88,316.66 507.45,317.08 C508.02,317.50 508.51,318.12 508.78,318.74 C509.06,319.36 509.08,320.14 509.08,320.80 C509.08,321.45 508.85,322.10 508.79,322.67 C508.72,323.25 508.64,323.71 508.70,324.25 Z" fill="url(#g10)" filter="url(#tex)"/>
<ellipse cx="504.46" cy="325.83" rx="1.65" ry="1.25" fill="#eccb98" opacity="0.2" filter="url(#blr2)"/>
<ellipse cx="504.23" cy="320.79" rx="2.77" ry="1.99" fill="#eccb98" opacity="0.2" filter="url(#blr2)"/>
<ellipse cx="505.64" cy="320.20" rx="2.01" ry="1.73" fill="#eccb98" opacity="0.2" filter="url(#blr2)"/>
<ellipse cx="418.55" cy="360.25" rx="11.15" ry="8.29" fill="#bdb6bc" opacity="0.5" filter="url(#blr)"/>
<ellipse cx="440.50" cy="361.00" rx="11.50" ry="9.35" fill="#bdb6bc" opacity="0.5" filter="url(#blr)"/>
<ellipse cx="465.80" cy="360.75" rx="12.80" ry="6.59" fill="#bdb6bc" opacity="0.5" filter="url(#blr)"/>
<ellipse cx="490.40" cy="360.25" rx="10.60" ry="8.29" fill="#bdb6bc" opacity="0.5" filter="url(#blr)"/>
<ellipse cx="513.00" cy="360.25" rx="11.00" ry="7.44" fill="#bdb6bc" opacity="0.5" filter="url(#blr)"/>
<defs><radialGradient id="g11" cx="0.45" cy="0.42" r="0.62"><stop offset="0" stop-color="#dcb47c"/><stop offset="0.62" stop-color="#cc9c62"/><stop offset="1" stop-color="#a87c4c"/></radialGradient></defs>
<path d="M426.78,358.75 C426.80,359.47 426.72,360.24 426.50,360.94 C426.28,361.63 425.88,362.31 425.46,362.92 C425.03,363.54 424.49,364.07 423.97,364.62 C423.45,365.17 422.93,365.69 422.36,366.21 C421.78,366.74 421.21,367.32 420.52,367.78 C419.83,368.24 419.05,368.73 418.22,368.98 C417.39,369.24 416.43,369.36 415.55,369.30 C414.67,369.25 413.76,368.96 412.97,368.65 C412.17,368.33 411.45,367.86 410.77,367.43 C410.09,367.00 409.47,366.55 408.87,366.07 C408.27,365.60 407.67,365.13 407.18,364.59 C406.69,364.04 406.22,363.44 405.93,362.80 C405.63,362.17 405.48,361.46 405.38,360.78 C405.28,360.10 405.35,359.43 405.34,358.75 C405.33,358.07 405.34,357.43 405.33,356.71 C405.33,355.99 405.22,355.22 405.31,354.44 C405.41,353.66 405.51,352.75 405.89,352.01 C406.27,351.28 406.89,350.53 407.61,350.05 C408.34,349.57 409.35,349.28 410.26,349.14 C411.17,349.00 412.18,349.13 413.06,349.21 C413.94,349.29 414.75,349.50 415.55,349.62 C416.35,349.73 417.08,349.80 417.86,349.91 C418.63,350.02 419.44,350.08 420.21,350.29 C420.97,350.50 421.78,350.79 422.45,351.19 C423.12,351.59 423.73,352.13 424.24,352.69 C424.74,353.26 425.14,353.91 425.49,354.56 C425.84,355.21 426.14,355.90 426.35,356.59 C426.57,357.29 426.76,358.03 426.78,358.75 Z" fill="url(#g11)" filter="url(#tex)"/>
<ellipse cx="410.32" cy="358.60" rx="2.97" ry="2.03" fill="#eccb98" opacity="0.2" filter="url(#blr2)"/>
<ellipse cx="420.18" cy="362.13" rx="2.93" ry="2.43" fill="#eccb98" opacity="0.2" filter="url(#blr2)"/>
<ellipse cx="420.89" cy="360.35" rx="2.49" ry="2.28" fill="#eccb98" opacity="0.2" filter="url(#blr2)"/>
<defs><radialGradient id="g12" cx="0.45" cy="0.42" r="0.62"><stop offset="0" stop-color="#dca06a"/><stop offset="0.62" stop-color="#cc8450"/><stop offset="1" stop-color="#a86434"/></radialGradient></defs>
<path d="M428.00,350.50 C429.50,349.25 432.50,348.67 435.00,348.50 C437.50,348.33 440.75,348.75 443.00,349.50 C445.25,350.25 447.50,351.42 448.50,353.00 C449.50,354.58 449.42,357.00 449.00,359.00 C448.58,361.00 447.67,363.83 446.00,365.00 C444.33,366.17 441.00,365.08 439.00,366.00 C437.00,366.92 435.83,370.17 434.00,370.50 C432.17,370.83 429.25,369.42 428.00,368.00 C426.75,366.58 426.83,364.00 426.50,362.00 C426.17,360.00 425.75,357.92 426.00,356.00 C426.25,354.08 426.50,351.75 428.00,350.50 Z" fill="url(#g12)" filter="url(#tex)"/>
<ellipse cx="433.44" cy="363.46" rx="1.76" ry="1.79" fill="#eccb98" opacity="0.2" filter="url(#blr2)"/>
<ellipse cx="443.12" cy="360.65" rx="2.52" ry="1.60" fill="#eccb98" opacity="0.2" filter="url(#blr2)"/>
<ellipse cx="433.59" cy="354.49" rx="3.26" ry="2.51" fill="#eccb98" opacity="0.2" filter="url(#blr2)"/>
<defs><radialGradient id="g13" cx="0.45" cy="0.42" r="0.62"><stop offset="0" stop-color="#dca46c"/><stop offset="0.62" stop-color="#cc8a52"/><stop offset="1" stop-color="#a86c3c"/></radialGradient></defs>
<path d="M475.72,359.25 C475.88,359.83 476.08,360.47 475.98,361.07 C475.88,361.67 475.61,362.32 475.12,362.84 C474.63,363.36 473.82,363.82 473.05,364.20 C472.28,364.58 471.34,364.82 470.51,365.10 C469.68,365.38 468.89,365.62 468.08,365.89 C467.27,366.16 466.50,366.50 465.62,366.73 C464.74,366.96 463.76,367.21 462.80,367.27 C461.84,367.32 460.77,367.24 459.86,367.06 C458.94,366.87 458.09,366.50 457.29,366.17 C456.50,365.84 455.84,365.45 455.11,365.09 C454.38,364.73 453.62,364.42 452.91,364.03 C452.20,363.63 451.37,363.23 450.86,362.73 C450.35,362.23 449.93,361.62 449.84,361.04 C449.76,360.46 450.05,359.81 450.34,359.25 C450.63,358.69 451.25,358.20 451.61,357.70 C451.96,357.20 452.26,356.78 452.47,356.24 C452.68,355.70 452.63,355.08 452.87,354.45 C453.10,353.83 453.31,353.04 453.89,352.49 C454.47,351.93 455.38,351.39 456.34,351.13 C457.31,350.88 458.60,350.88 459.68,350.97 C460.76,351.06 461.85,351.43 462.80,351.67 C463.75,351.91 464.53,352.21 465.38,352.41 C466.23,352.61 467.03,352.69 467.88,352.86 C468.74,353.02 469.70,353.13 470.50,353.40 C471.31,353.67 472.13,354.03 472.73,354.45 C473.34,354.88 473.76,355.42 474.14,355.94 C474.52,356.46 474.74,357.01 475.01,357.56 C475.27,358.11 475.56,358.67 475.72,359.25 Z" fill="url(#g13)" filter="url(#tex)"/>
<ellipse cx="458.68" cy="360.98" rx="3.25" ry="1.55" fill="#eccb98" opacity="0.2" filter="url(#blr2)"/>
<ellipse cx="462.42" cy="361.17" rx="2.79" ry="1.84" fill="#eccb98" opacity="0.2" filter="url(#blr2)"/>
<ellipse cx="460.21" cy="361.02" rx="2.70" ry="1.03" fill="#eccb98" opacity="0.2" filter="url(#blr2)"/>
<defs><radialGradient id="g14" cx="0.45" cy="0.42" r="0.62"><stop offset="0" stop-color="#dcb07a"/><stop offset="0.62" stop-color="#cc9a60"/><stop offset="1" stop-color="#a87a48"/></radialGradient></defs>
<path d="M499.50,358.75 C499.55,359.56 499.46,360.47 499.10,361.21 C498.73,361.94 498.02,362.64 497.32,363.14 C496.62,363.65 495.62,363.92 494.87,364.23 C494.13,364.54 493.41,364.66 492.83,365.01 C492.25,365.37 491.91,365.83 491.39,366.38 C490.88,366.93 490.43,367.77 489.77,368.29 C489.10,368.82 488.22,369.41 487.40,369.54 C486.58,369.66 485.58,369.44 484.84,369.05 C484.10,368.67 483.49,367.84 482.96,367.22 C482.43,366.61 482.15,365.88 481.66,365.38 C481.16,364.87 480.66,364.57 480.00,364.18 C479.35,363.79 478.42,363.54 477.72,363.04 C477.02,362.54 476.19,361.90 475.80,361.18 C475.41,360.47 475.29,359.54 475.39,358.75 C475.50,357.96 476.01,357.15 476.43,356.45 C476.85,355.75 477.45,355.17 477.91,354.55 C478.38,353.93 478.75,353.34 479.21,352.74 C479.67,352.15 480.08,351.47 480.66,350.97 C481.24,350.48 481.95,350.00 482.70,349.77 C483.44,349.53 484.34,349.52 485.12,349.56 C485.90,349.61 486.68,349.87 487.40,350.02 C488.12,350.17 488.76,350.34 489.46,350.46 C490.16,350.58 490.86,350.59 491.60,350.73 C492.34,350.86 493.15,350.99 493.87,351.28 C494.60,351.58 495.32,352.00 495.93,352.49 C496.55,352.99 497.07,353.61 497.55,354.25 C498.03,354.90 498.47,355.61 498.79,356.36 C499.11,357.11 499.45,357.94 499.50,358.75 Z" fill="url(#g14)" filter="url(#tex)"/>
<ellipse cx="491.47" cy="362.17" rx="3.16" ry="1.75" fill="#eccb98" opacity="0.2" filter="url(#blr2)"/>
<ellipse cx="489.21" cy="354.85" rx="3.13" ry="2.24" fill="#eccb98" opacity="0.2" filter="url(#blr2)"/>
<ellipse cx="483.53" cy="361.58" rx="2.06" ry="1.23" fill="#eccb98" opacity="0.2" filter="url(#blr2)"/>
<defs><radialGradient id="g15" cx="0.45" cy="0.42" r="0.62"><stop offset="0" stop-color="#dcaa74"/><stop offset="0.62" stop-color="#cc9258"/><stop offset="1" stop-color="#a87240"/></radialGradient></defs>
<path d="M519.68,358.75 C519.81,359.34 520.12,359.95 520.20,360.60 C520.27,361.25 520.33,361.99 520.13,362.63 C519.92,363.27 519.49,363.92 518.96,364.44 C518.44,364.95 517.69,365.35 516.99,365.72 C516.29,366.09 515.52,366.35 514.77,366.63 C514.02,366.92 513.29,367.21 512.49,367.43 C511.69,367.65 510.85,367.90 510.00,367.97 C509.15,368.04 508.21,368.02 507.39,367.84 C506.57,367.66 505.76,367.29 505.07,366.89 C504.39,366.49 503.83,365.94 503.29,365.44 C502.76,364.95 502.32,364.42 501.86,363.91 C501.41,363.40 500.95,362.91 500.55,362.37 C500.15,361.83 499.74,361.26 499.48,360.66 C499.22,360.06 499.03,359.39 499.00,358.75 C498.96,358.11 499.07,357.43 499.25,356.80 C499.43,356.17 499.74,355.54 500.09,354.96 C500.45,354.37 500.88,353.79 501.39,353.29 C501.90,352.78 502.49,352.29 503.15,351.91 C503.80,351.53 504.56,351.23 505.31,350.99 C506.05,350.76 506.85,350.64 507.64,350.51 C508.42,350.38 509.18,350.29 510.00,350.20 C510.82,350.10 511.65,349.97 512.53,349.95 C513.40,349.93 514.38,349.90 515.24,350.09 C516.10,350.29 517.02,350.63 517.66,351.11 C518.30,351.59 518.80,352.31 519.09,352.98 C519.39,353.65 519.38,354.46 519.42,355.14 C519.47,355.82 519.33,356.45 519.38,357.05 C519.42,357.65 519.54,358.16 519.68,358.75 Z" fill="url(#g15)" filter="url(#tex)"/>
<ellipse cx="506.38" cy="357.16" rx="1.97" ry="1.40" fill="#eccb98" opacity="0.2" filter="url(#blr2)"/>
<ellipse cx="514.34" cy="354.52" rx="2.95" ry="1.85" fill="#eccb98" opacity="0.2" filter="url(#blr2)"/>
<ellipse cx="504.82" cy="354.65" rx="2.57" ry="2.07" fill="#eccb98" opacity="0.2" filter="url(#blr2)"/>
<ellipse cx="416.00" cy="398.50" rx="14.40" ry="9.35" fill="#bdb6bc" opacity="0.5" filter="url(#blr)"/>
<ellipse cx="446.90" cy="398.85" rx="15.10" ry="9.90" fill="#bdb6bc" opacity="0.5" filter="url(#blr)"/>
<ellipse cx="474.45" cy="398.75" rx="11.95" ry="8.71" fill="#bdb6bc" opacity="0.5" filter="url(#blr)"/>
<ellipse cx="500.35" cy="399.00" rx="13.35" ry="7.65" fill="#bdb6bc" opacity="0.5" filter="url(#blr)"/>
<ellipse cx="529.20" cy="399.70" rx="13.20" ry="10.62" fill="#bdb6bc" opacity="0.5" filter="url(#blr)"/>
<defs><radialGradient id="g16" cx="0.45" cy="0.42" r="0.62"><stop offset="0" stop-color="#e2b884"/><stop offset="0.62" stop-color="#d6a068"/><stop offset="1" stop-color="#b88250"/></radialGradient></defs>
<path d="M427.74,397.00 C427.69,397.82 427.36,398.67 427.03,399.45 C426.70,400.23 426.20,400.95 425.74,401.69 C425.28,402.42 424.83,403.15 424.26,403.86 C423.70,404.57 423.11,405.34 422.33,405.94 C421.56,406.54 420.61,407.12 419.60,407.48 C418.60,407.84 417.42,408.01 416.31,408.09 C415.21,408.18 414.08,408.07 413.00,407.99 C411.92,407.91 410.87,407.79 409.83,407.61 C408.79,407.44 407.70,407.28 406.74,406.93 C405.78,406.58 404.80,406.12 404.09,405.53 C403.39,404.94 402.88,404.13 402.50,403.40 C402.11,402.66 402.07,401.84 401.79,401.12 C401.52,400.41 401.33,399.81 400.85,399.12 C400.38,398.43 399.59,397.82 398.96,397.00 C398.33,396.18 397.39,395.20 397.09,394.23 C396.79,393.25 396.69,392.04 397.15,391.17 C397.60,390.29 398.72,389.47 399.83,388.98 C400.95,388.49 402.58,388.37 403.85,388.24 C405.12,388.10 406.38,388.28 407.45,388.19 C408.51,388.10 409.30,387.96 410.22,387.71 C411.15,387.46 412.00,386.97 413.00,386.71 C414.00,386.45 415.17,386.14 416.24,386.16 C417.31,386.18 418.47,386.44 419.42,386.82 C420.37,387.20 421.18,387.86 421.93,388.44 C422.69,389.03 423.29,389.70 423.94,390.34 C424.58,390.98 425.25,391.59 425.80,392.29 C426.36,392.98 426.97,393.72 427.29,394.51 C427.61,395.29 427.78,396.18 427.74,397.00 Z" fill="url(#g16)" filter="url(#tex)"/>
<ellipse cx="411.88" cy="396.96" rx="3.15" ry="1.54" fill="#eccb98" opacity="0.2" filter="url(#blr2)"/>
<ellipse cx="410.92" cy="395.73" rx="2.46" ry="1.58" fill="#eccb98" opacity="0.2" filter="url(#blr2)"/>
<ellipse cx="413.16" cy="394.28" rx="4.27" ry="1.57" fill="#eccb98" opacity="0.2" filter="url(#blr2)"/>
<defs><radialGradient id="g17" cx="0.45" cy="0.42" r="0.62"><stop offset="0" stop-color="#e6ac7a"/><stop offset="0.62" stop-color="#d8925c"/><stop offset="1" stop-color="#bc7242"/></radialGradient></defs>
<path d="M457.63,397.35 C457.52,398.17 457.55,398.91 457.54,399.75 C457.53,400.60 457.73,401.53 457.56,402.43 C457.39,403.32 457.11,404.34 456.50,405.10 C455.89,405.87 454.91,406.56 453.91,407.03 C452.91,407.51 451.64,407.73 450.52,407.96 C449.40,408.19 448.28,408.26 447.18,408.42 C446.07,408.58 445.03,408.81 443.90,408.93 C442.77,409.06 441.55,409.26 440.40,409.18 C439.24,409.11 437.98,408.89 436.97,408.46 C435.96,408.03 435.05,407.31 434.34,406.60 C433.62,405.90 433.18,405.01 432.70,404.24 C432.23,403.46 431.92,402.70 431.51,401.95 C431.10,401.21 430.64,400.52 430.26,399.75 C429.89,398.98 429.44,398.19 429.24,397.35 C429.04,396.51 428.94,395.60 429.05,394.73 C429.15,393.87 429.46,392.97 429.87,392.14 C430.27,391.30 430.82,390.47 431.48,389.71 C432.13,388.95 432.89,388.17 433.79,387.57 C434.70,386.97 435.78,386.42 436.89,386.12 C438.00,385.81 439.30,385.71 440.47,385.75 C441.64,385.78 442.82,386.09 443.90,386.31 C444.98,386.53 445.92,386.86 446.95,387.06 C447.97,387.25 448.96,387.33 450.05,387.49 C451.15,387.66 452.42,387.71 453.52,388.05 C454.61,388.38 455.84,388.85 456.63,389.52 C457.42,390.18 457.99,391.13 458.25,392.02 C458.51,392.90 458.31,393.94 458.21,394.83 C458.11,395.72 457.74,396.53 457.63,397.35 Z" fill="url(#g17)" filter="url(#tex)"/>
<ellipse cx="450.53" cy="399.96" rx="3.34" ry="1.89" fill="#eccb98" opacity="0.2" filter="url(#blr2)"/>
<ellipse cx="442.05" cy="398.54" rx="3.23" ry="1.88" fill="#eccb98" opacity="0.2" filter="url(#blr2)"/>
<ellipse cx="438.16" cy="401.80" rx="3.67" ry="2.65" fill="#eccb98" opacity="0.2" filter="url(#blr2)"/>
<defs><radialGradient id="g18" cx="0.45" cy="0.42" r="0.62"><stop offset="0" stop-color="#e2b27e"/><stop offset="0.62" stop-color="#d69c64"/><stop offset="1" stop-color="#b8804c"/></radialGradient></defs>
<path d="M483.71,397.25 C483.71,398.02 483.45,398.81 483.20,399.55 C482.95,400.29 482.56,400.98 482.20,401.69 C481.85,402.40 481.50,403.12 481.05,403.82 C480.60,404.52 480.13,405.29 479.48,405.89 C478.83,406.49 478.03,407.08 477.16,407.42 C476.30,407.76 475.24,407.92 474.29,407.93 C473.34,407.94 472.34,407.70 471.45,407.47 C470.56,407.24 469.75,406.87 468.98,406.55 C468.20,406.23 467.49,405.90 466.79,405.56 C466.08,405.21 465.39,404.88 464.73,404.48 C464.06,404.08 463.42,403.65 462.81,403.16 C462.21,402.66 461.64,402.12 461.10,401.52 C460.57,400.93 460.04,400.28 459.62,399.57 C459.20,398.85 458.77,398.06 458.58,397.25 C458.40,396.44 458.33,395.52 458.53,394.72 C458.74,393.92 459.22,393.09 459.80,392.44 C460.38,391.78 461.25,391.26 462.02,390.80 C462.78,390.33 463.64,390.04 464.39,389.66 C465.15,389.28 465.81,388.91 466.54,388.51 C467.27,388.10 467.96,387.57 468.78,387.22 C469.60,386.87 470.54,386.48 471.45,386.40 C472.36,386.31 473.40,386.43 474.25,386.72 C475.11,387.01 475.90,387.60 476.57,388.13 C477.25,388.65 477.74,389.33 478.30,389.88 C478.86,390.44 479.35,390.94 479.91,391.46 C480.48,391.98 481.15,392.44 481.70,393.02 C482.24,393.60 482.85,394.25 483.19,394.95 C483.52,395.66 483.71,396.48 483.71,397.25 Z" fill="url(#g18)" filter="url(#tex)"/>
<ellipse cx="470.31" cy="400.68" rx="3.18" ry="1.46" fill="#eccb98" opacity="0.2" filter="url(#blr2)"/>
<ellipse cx="468.04" cy="394.30" rx="2.20" ry="1.29" fill="#eccb98" opacity="0.2" filter="url(#blr2)"/>
<ellipse cx="476.33" cy="394.95" rx="2.37" ry="1.81" fill="#eccb98" opacity="0.2" filter="url(#blr2)"/>
<defs><radialGradient id="g19" cx="0.45" cy="0.42" r="0.62"><stop offset="0" stop-color="#e6aa78"/><stop offset="0.62" stop-color="#d8945c"/><stop offset="1" stop-color="#bc7444"/></radialGradient></defs>
<path d="M511.31,397.50 C511.78,398.18 512.14,399.04 512.04,399.76 C511.95,400.48 511.36,401.25 510.72,401.84 C510.08,402.43 509.04,402.89 508.18,403.32 C507.32,403.76 506.42,404.08 505.58,404.45 C504.73,404.83 503.98,405.24 503.12,405.57 C502.25,405.91 501.35,406.28 500.38,406.46 C499.42,406.64 498.34,406.71 497.35,406.66 C496.36,406.61 495.36,406.37 494.42,406.16 C493.48,405.95 492.61,405.66 491.71,405.39 C490.82,405.12 489.88,404.88 489.03,404.53 C488.18,404.18 487.24,403.79 486.61,403.27 C485.99,402.75 485.49,402.08 485.27,401.42 C485.06,400.77 485.23,400.00 485.33,399.35 C485.43,398.70 485.80,398.10 485.88,397.50 C485.95,396.90 485.89,396.38 485.78,395.72 C485.67,395.06 485.26,394.32 485.22,393.56 C485.18,392.80 485.15,391.87 485.57,391.17 C485.98,390.46 486.80,389.77 487.71,389.35 C488.62,388.93 489.92,388.77 491.03,388.65 C492.13,388.53 493.29,388.64 494.35,388.63 C495.40,388.62 496.35,388.60 497.35,388.59 C498.35,388.58 499.39,388.46 500.38,388.56 C501.36,388.66 502.46,388.83 503.28,389.20 C504.10,389.57 504.80,390.20 505.30,390.78 C505.81,391.35 505.99,392.09 506.33,392.67 C506.67,393.25 506.87,393.75 507.35,394.25 C507.83,394.75 508.56,395.13 509.22,395.67 C509.88,396.21 510.84,396.82 511.31,397.50 Z" fill="url(#g19)" filter="url(#tex)"/>
<ellipse cx="503.08" cy="398.93" rx="2.22" ry="1.34" fill="#eccb98" opacity="0.2" filter="url(#blr2)"/>
<ellipse cx="493.99" cy="396.41" rx="2.33" ry="1.84" fill="#eccb98" opacity="0.2" filter="url(#blr2)"/>
<ellipse cx="497.81" cy="397.50" rx="2.39" ry="1.47" fill="#eccb98" opacity="0.2" filter="url(#blr2)"/>
<defs><radialGradient id="g20" cx="0.45" cy="0.42" r="0.62"><stop offset="0" stop-color="#e6b084"/><stop offset="0.62" stop-color="#d89a6a"/><stop offset="1" stop-color="#bc7a4c"/></radialGradient></defs>
<path d="M513.50,389.00 C514.33,387.50 516.92,386.33 519.00,386.00 C521.08,385.67 523.67,387.00 526.00,387.00 C528.33,387.00 530.75,385.75 533.00,386.00 C535.25,386.25 538.50,387.00 539.50,388.50 C540.50,390.00 539.75,393.08 539.00,395.00 C538.25,396.92 536.33,398.33 535.00,400.00 C533.67,401.67 532.33,403.33 531.00,405.00 C529.67,406.67 528.50,409.58 527.00,410.00 C525.50,410.42 523.50,409.00 522.00,407.50 C520.50,406.00 519.33,403.08 518.00,401.00 C516.67,398.92 514.75,397.00 514.00,395.00 C513.25,393.00 512.67,390.50 513.50,389.00 Z" fill="url(#g20)" filter="url(#tex)"/>
<ellipse cx="521.62" cy="392.66" rx="3.01" ry="2.61" fill="#eccb98" opacity="0.2" filter="url(#blr2)"/>
<ellipse cx="519.87" cy="397.10" rx="2.31" ry="1.52" fill="#eccb98" opacity="0.2" filter="url(#blr2)"/>
<ellipse cx="524.80" cy="401.44" rx="3.32" ry="1.53" fill="#eccb98" opacity="0.2" filter="url(#blr2)"/>
<ellipse cx="441" cy="399" rx="4.5" ry="3" fill="#e04828" opacity="0.25" filter="url(#blr2)"/>
<ellipse cx="444" cy="399.5" rx="1.3" ry="1.0" fill="#e04828" opacity="0.7" filter="url(#blr2)"/>
<ellipse cx="497" cy="399" rx="4" ry="2.5" fill="#e04828" opacity="0.25" filter="url(#blr2)"/>
<ellipse cx="496" cy="398.5" rx="1.1" ry="0.9" fill="#e04828" opacity="0.65" filter="url(#blr2)"/>
<ellipse cx="431" cy="294" rx="2.5" ry="3" fill="#e04828" opacity="0.25" filter="url(#blr2)"/>
<ellipse cx="434" cy="360" rx="4" ry="5" fill="#e04828" opacity="0.22" filter="url(#blr2)"/>
<ellipse cx="433" cy="365" rx="3" ry="3" fill="#e04828" opacity="0.25" filter="url(#blr2)"/>
<ellipse cx="454" cy="358" rx="3" ry="4" fill="#e04828" opacity="0.18" filter="url(#blr2)"/>
<ellipse cx="523" cy="396" rx="3" ry="3" fill="#e04828" opacity="0.18" filter="url(#blr2)"/>
<ellipse cx="530" cy="404" rx="2" ry="3" fill="#e04828" opacity="0.2" filter="url(#blr2)"/>
<defs><filter id="blr2" x="-50%" y="-50%" width="200%" height="200%"><feGaussianBlur stdDeviation="0.8"/></filter></defs>
<rect x="394.6" y="432.4" width="156.20" height="38.4" fill="url(#rul)"/>
<rect x="394.6" y="432.4" width="156.20" height="6.2" fill="#8a8476" opacity="0.6"/>
<rect x="394.6" y="463.2" width="156.20" height="7.6" fill="#8a8476" opacity="0.6"/>
<rect x="394.6" y="452.6" width="156.20" height="9.6" fill="#c4c0ae" opacity="0.45"/>
<line x1="394.60" y1="451.90" x2="550.80" y2="451.90" stroke="#7a7468" stroke-width="1.0" />
<line x1="394.60" y1="462.40" x2="550.80" y2="462.40" stroke="#7a7468" stroke-width="0.8" />
<line x1="396.10" y1="432.40" x2="396.10" y2="438.40" stroke="#433f38" stroke-width="0.7" />
<line x1="399.14" y1="432.40" x2="399.14" y2="436.00" stroke="#433f38" stroke-width="0.7" />
<line x1="402.18" y1="432.40" x2="402.18" y2="436.00" stroke="#433f38" stroke-width="0.7" />
<line x1="405.22" y1="432.40" x2="405.22" y2="436.00" stroke="#433f38" stroke-width="0.7" />
<line x1="408.26" y1="432.40" x2="408.26" y2="436.00" stroke="#433f38" stroke-width="0.7" />
<line x1="411.30" y1="432.40" x2="411.30" y2="437.20" stroke="#433f38" stroke-width="0.7" />
<line x1="414.34" y1="432.40" x2="414.34" y2="436.00" stroke="#433f38" stroke-width="0.7" />
<line x1="417.38" y1="432.40" x2="417.38" y2="436.00" stroke="#433f38" stroke-width="0.7" />
<line x1="420.42" y1="432.40" x2="420.42" y2="436.00" stroke="#433f38" stroke-width="0.7" />
<line x1="423.46" y1="432.40" x2="423.46" y2="436.00" stroke="#433f38" stroke-width="0.7" />
<line x1="426.50" y1="432.40" x2="426.50" y2="438.40" stroke="#433f38" stroke-width="0.7" />
<line x1="429.54" y1="432.40" x2="429.54" y2="436.00" stroke="#433f38" stroke-width="0.7" />
<line x1="432.58" y1="432.40" x2="432.58" y2="436.00" stroke="#433f38" stroke-width="0.7" />
<line x1="435.62" y1="432.40" x2="435.62" y2="436.00" stroke="#433f38" stroke-width="0.7" />
<line x1="438.66" y1="432.40" x2="438.66" y2="436.00" stroke="#433f38" stroke-width="0.7" />
<line x1="441.70" y1="432.40" x2="441.70" y2="437.20" stroke="#433f38" stroke-width="0.7" />
<line x1="444.74" y1="432.40" x2="444.74" y2="436.00" stroke="#433f38" stroke-width="0.7" />
<line x1="447.78" y1="432.40" x2="447.78" y2="436.00" stroke="#433f38" stroke-width="0.7" />
<line x1="450.82" y1="432.40" x2="450.82" y2="436.00" stroke="#433f38" stroke-width="0.7" />
<line x1="453.86" y1="432.40" x2="453.86" y2="436.00" stroke="#433f38" stroke-width="0.7" />
<line x1="456.90" y1="432.40" x2="456.90" y2="438.40" stroke="#433f38" stroke-width="0.7" />
<line x1="459.94" y1="432.40" x2="459.94" y2="436.00" stroke="#433f38" stroke-width="0.7" />
<line x1="462.98" y1="432.40" x2="462.98" y2="436.00" stroke="#433f38" stroke-width="0.7" />
<line x1="466.02" y1="432.40" x2="466.02" y2="436.00" stroke="#433f38" stroke-width="0.7" />
<line x1="469.06" y1="432.40" x2="469.06" y2="436.00" stroke="#433f38" stroke-width="0.7" />
<line x1="472.10" y1="432.40" x2="472.10" y2="437.20" stroke="#433f38" stroke-width="0.7" />
<line x1="475.14" y1="432.40" x2="475.14" y2="436.00" stroke="#433f38" stroke-width="0.7" />
<line x1="478.18" y1="432.40" x2="478.18" y2="436.00" stroke="#433f38" stroke-width="0.7" />
<line x1="481.22" y1="432.40" x2="481.22" y2="436.00" stroke="#433f38" stroke-width="0.7" />
<line x1="484.26" y1="432.40" x2="484.26" y2="436.00" stroke="#433f38" stroke-width="0.7" />
<line x1="487.30" y1="432.40" x2="487.30" y2="438.40" stroke="#433f38" stroke-width="0.7" />
<line x1="490.34" y1="432.40" x2="490.34" y2="436.00" stroke="#433f38" stroke-width="0.7" />
<line x1="493.38" y1="432.40" x2="493.38" y2="436.00" stroke="#433f38" stroke-width="0.7" />
<line x1="496.42" y1="432.40" x2="496.42" y2="436.00" stroke="#433f38" stroke-width="0.7" />
<line x1="499.46" y1="432.40" x2="499.46" y2="436.00" stroke="#433f38" stroke-width="0.7" />
<line x1="502.50" y1="432.40" x2="502.50" y2="437.20" stroke="#433f38" stroke-width="0.7" />
<line x1="505.54" y1="432.40" x2="505.54" y2="436.00" stroke="#433f38" stroke-width="0.7" />
<line x1="508.58" y1="432.40" x2="508.58" y2="436.00" stroke="#433f38" stroke-width="0.7" />
<line x1="511.62" y1="432.40" x2="511.62" y2="436.00" stroke="#433f38" stroke-width="0.7" />
<line x1="514.66" y1="432.40" x2="514.66" y2="436.00" stroke="#433f38" stroke-width="0.7" />
<line x1="517.70" y1="432.40" x2="517.70" y2="438.40" stroke="#433f38" stroke-width="0.7" />
<line x1="520.74" y1="432.40" x2="520.74" y2="436.00" stroke="#433f38" stroke-width="0.7" />
<line x1="523.78" y1="432.40" x2="523.78" y2="436.00" stroke="#433f38" stroke-width="0.7" />
<line x1="526.82" y1="432.40" x2="526.82" y2="436.00" stroke="#433f38" stroke-width="0.7" />
<line x1="529.86" y1="432.40" x2="529.86" y2="436.00" stroke="#433f38" stroke-width="0.7" />
<line x1="532.90" y1="432.40" x2="532.90" y2="437.20" stroke="#433f38" stroke-width="0.7" />
<line x1="535.94" y1="432.40" x2="535.94" y2="436.00" stroke="#433f38" stroke-width="0.7" />
<line x1="538.98" y1="432.40" x2="538.98" y2="436.00" stroke="#433f38" stroke-width="0.7" />
<line x1="542.02" y1="432.40" x2="542.02" y2="436.00" stroke="#433f38" stroke-width="0.7" />
<line x1="545.06" y1="432.40" x2="545.06" y2="436.00" stroke="#433f38" stroke-width="0.7" />
<line x1="548.10" y1="432.40" x2="548.10" y2="438.40" stroke="#433f38" stroke-width="0.7" />
<line x1="395.60" y1="464.30" x2="395.60" y2="470.80" stroke="#433f38" stroke-width="0.7" />
<line x1="398.00" y1="467.30" x2="398.00" y2="470.80" stroke="#433f38" stroke-width="0.7" />
<line x1="400.40" y1="467.30" x2="400.40" y2="470.80" stroke="#433f38" stroke-width="0.7" />
<line x1="402.80" y1="467.30" x2="402.80" y2="470.80" stroke="#433f38" stroke-width="0.7" />
<line x1="405.20" y1="465.80" x2="405.20" y2="470.80" stroke="#433f38" stroke-width="0.7" />
<line x1="407.60" y1="467.30" x2="407.60" y2="470.80" stroke="#433f38" stroke-width="0.7" />
<line x1="410.00" y1="467.30" x2="410.00" y2="470.80" stroke="#433f38" stroke-width="0.7" />
<line x1="412.40" y1="467.30" x2="412.40" y2="470.80" stroke="#433f38" stroke-width="0.7" />
<line x1="414.80" y1="464.30" x2="414.80" y2="470.80" stroke="#433f38" stroke-width="0.7" />
<line x1="417.20" y1="467.30" x2="417.20" y2="470.80" stroke="#433f38" stroke-width="0.7" />
<line x1="419.60" y1="467.30" x2="419.60" y2="470.80" stroke="#433f38" stroke-width="0.7" />
<line x1="422.00" y1="467.30" x2="422.00" y2="470.80" stroke="#433f38" stroke-width="0.7" />
<line x1="424.40" y1="465.80" x2="424.40" y2="470.80" stroke="#433f38" stroke-width="0.7" />
<line x1="426.80" y1="467.30" x2="426.80" y2="470.80" stroke="#433f38" stroke-width="0.7" />
<line x1="429.20" y1="467.30" x2="429.20" y2="470.80" stroke="#433f38" stroke-width="0.7" />
<line x1="431.60" y1="467.30" x2="431.60" y2="470.80" stroke="#433f38" stroke-width="0.7" />
<line x1="434.00" y1="464.30" x2="434.00" y2="470.80" stroke="#433f38" stroke-width="0.7" />
<line x1="436.40" y1="467.30" x2="436.40" y2="470.80" stroke="#433f38" stroke-width="0.7" />
<line x1="438.80" y1="467.30" x2="438.80" y2="470.80" stroke="#433f38" stroke-width="0.7" />
<line x1="441.20" y1="467.30" x2="441.20" y2="470.80" stroke="#433f38" stroke-width="0.7" />
<line x1="443.60" y1="465.80" x2="443.60" y2="470.80" stroke="#433f38" stroke-width="0.7" />
<line x1="446.00" y1="467.30" x2="446.00" y2="470.80" stroke="#433f38" stroke-width="0.7" />
<line x1="448.40" y1="467.30" x2="448.40" y2="470.80" stroke="#433f38" stroke-width="0.7" />
<line x1="450.80" y1="467.30" x2="450.80" y2="470.80" stroke="#433f38" stroke-width="0.7" />
<line x1="453.20" y1="464.30" x2="453.20" y2="470.80" stroke="#433f38" stroke-width="0.7" />
<line x1="455.60" y1="467.30" x2="455.60" y2="470.80" stroke="#433f38" stroke-width="0.7" />
<line x1="458.00" y1="467.30" x2="458.00" y2="470.80" stroke="#433f38" stroke-width="0.7" />
<line x1="460.40" y1="467.30" x2="460.40" y2="470.80" stroke="#433f38" stroke-width="0.7" />
<line x1="462.80" y1="465.80" x2="462.80" y2="470.80" stroke="#433f38" stroke-width="0.7" />
<line x1="465.20" y1="467.30" x2="465.20" y2="470.80" stroke="#433f38" stroke-width="0.7" />
<line x1="467.60" y1="467.30" x2="467.60" y2="470.80" stroke="#433f38" stroke-width="0.7" />
<line x1="470.00" y1="467.30" x2="470.00" y2="470.80" stroke="#433f38" stroke-width="0.7" />
<line x1="472.40" y1="464.30" x2="472.40" y2="470.80" stroke="#433f38" stroke-width="0.7" />
<line x1="474.80" y1="467.30" x2="474.80" y2="470.80" stroke="#433f38" stroke-width="0.7" />
<line x1="477.20" y1="467.30" x2="477.20" y2="470.80" stroke="#433f38" stroke-width="0.7" />
<line x1="479.60" y1="467.30" x2="479.60" y2="470.80" stroke="#433f38" stroke-width="0.7" />
<line x1="482.00" y1="465.80" x2="482.00" y2="470.80" stroke="#433f38" stroke-width="0.7" />
<line x1="484.40" y1="467.30" x2="484.40" y2="470.80" stroke="#433f38" stroke-width="0.7" />
<line x1="486.80" y1="467.30" x2="486.80" y2="470.80" stroke="#433f38" stroke-width="0.7" />
<line x1="489.20" y1="467.30" x2="489.20" y2="470.80" stroke="#433f38" stroke-width="0.7" />
<line x1="491.60" y1="464.30" x2="491.60" y2="470.80" stroke="#433f38" stroke-width="0.7" />
<line x1="494.00" y1="467.30" x2="494.00" y2="470.80" stroke="#433f38" stroke-width="0.7" />
<line x1="496.40" y1="467.30" x2="496.40" y2="470.80" stroke="#433f38" stroke-width="0.7" />
<line x1="498.80" y1="467.30" x2="498.80" y2="470.80" stroke="#433f38" stroke-width="0.7" />
<line x1="501.20" y1="465.80" x2="501.20" y2="470.80" stroke="#433f38" stroke-width="0.7" />
<line x1="503.60" y1="467.30" x2="503.60" y2="470.80" stroke="#433f38" stroke-width="0.7" />
<line x1="506.00" y1="467.30" x2="506.00" y2="470.80" stroke="#433f38" stroke-width="0.7" />
<line x1="508.40" y1="467.30" x2="508.40" y2="470.80" stroke="#433f38" stroke-width="0.7" />
<line x1="510.80" y1="464.30" x2="510.80" y2="470.80" stroke="#433f38" stroke-width="0.7" />
<line x1="513.20" y1="467.30" x2="513.20" y2="470.80" stroke="#433f38" stroke-width="0.7" />
<line x1="515.60" y1="467.30" x2="515.60" y2="470.80" stroke="#433f38" stroke-width="0.7" />
<line x1="518.00" y1="467.30" x2="518.00" y2="470.80" stroke="#433f38" stroke-width="0.7" />
<line x1="520.40" y1="465.80" x2="520.40" y2="470.80" stroke="#433f38" stroke-width="0.7" />
<line x1="522.80" y1="467.30" x2="522.80" y2="470.80" stroke="#433f38" stroke-width="0.7" />
<line x1="525.20" y1="467.30" x2="525.20" y2="470.80" stroke="#433f38" stroke-width="0.7" />
<line x1="527.60" y1="467.30" x2="527.60" y2="470.80" stroke="#433f38" stroke-width="0.7" />
<line x1="530.00" y1="464.30" x2="530.00" y2="470.80" stroke="#433f38" stroke-width="0.7" />
<line x1="532.40" y1="467.30" x2="532.40" y2="470.80" stroke="#433f38" stroke-width="0.7" />
<line x1="534.80" y1="467.30" x2="534.80" y2="470.80" stroke="#433f38" stroke-width="0.7" />
<line x1="537.20" y1="467.30" x2="537.20" y2="470.80" stroke="#433f38" stroke-width="0.7" />
<line x1="539.60" y1="465.80" x2="539.60" y2="470.80" stroke="#433f38" stroke-width="0.7" />
<line x1="542.00" y1="467.30" x2="542.00" y2="470.80" stroke="#433f38" stroke-width="0.7" />
<line x1="544.40" y1="467.30" x2="544.40" y2="470.80" stroke="#433f38" stroke-width="0.7" />
<line x1="546.80" y1="467.30" x2="546.80" y2="470.80" stroke="#433f38" stroke-width="0.7" />
<line x1="549.20" y1="464.30" x2="549.20" y2="470.80" stroke="#433f38" stroke-width="0.7" />
<line x1="424.10" y1="432.40" x2="424.10" y2="446.00" stroke="#5e594f" stroke-width="0.7" />
<line x1="454.00" y1="432.40" x2="454.00" y2="446.00" stroke="#5e594f" stroke-width="0.7" />
<line x1="484.00" y1="432.40" x2="484.00" y2="446.00" stroke="#5e594f" stroke-width="0.7" />
<line x1="513.60" y1="432.40" x2="513.60" y2="446.00" stroke="#5e594f" stroke-width="0.7" />
<line x1="543.50" y1="432.40" x2="543.50" y2="446.00" stroke="#5e594f" stroke-width="0.7" />
<text x="409.50" y="446.00" font-family="Liberation Sans, sans-serif" font-size="5.5" font-weight="bold" text-anchor="middle" fill="#2e2a26">cm</text>
<text x="421.20" y="447.20" font-family="Liberation Sans, sans-serif" font-size="7.0" font-weight="bold" text-anchor="middle" fill="#2e2a26">1</text>
<text x="448.60" y="447.20" font-family="Liberation Sans, sans-serif" font-size="7.0" font-weight="bold" text-anchor="middle" fill="#2e2a26">2</text>
<text x="479.00" y="447.20" font-family="Liberation Sans, sans-serif" font-size="7.0" font-weight="bold" text-anchor="middle" fill="#2e2a26">3</text>
<text x="509.00" y="447.20" font-family="Liberation Sans, sans-serif" font-size="7.0" font-weight="bold" text-anchor="middle" fill="#2e2a26">4</text>
<text x="538.00" y="447.80" font-family="Liberation Sans, sans-serif" font-size="9.5" font-weight="bold" text-anchor="middle" fill="#2e2a26">5</text>
<text x="412.00" y="461.50" font-family="Liberation Sans, sans-serif" font-size="5.0" font-weight="bold" text-anchor="middle" fill="#2e2a26">32</text>
<text x="446.50" y="461.50" font-family="Liberation Sans, sans-serif" font-size="5.5" font-weight="bold" text-anchor="middle" fill="#2e2a26">INCH</text>
<text x="465.00" y="462.00" font-family="Liberation Sans, sans-serif" font-size="9.0" font-weight="bold" text-anchor="middle" fill="#2e2a26">1</text>
<text x="540.70" y="462.00" font-family="Liberation Sans, sans-serif" font-size="9.0" font-weight="bold" text-anchor="middle" fill="#2e2a26">2</text>
<line x1="431.00" y1="453.00" x2="431.00" y2="462.00" stroke="#5e594f" stroke-width="0.6" />
<text transform="translate(555.90,296.60) scale(1.000,1)" font-size="11.2" font-weight="bold" text-anchor="start" fill="#111" stroke="#111" stroke-width="0.22" >ASP-BBR-PM@HNK</text>
<text transform="translate(554.40,326.80) scale(1.000,1)" font-size="11.2" font-weight="bold" text-anchor="start" fill="#111" stroke="#111" stroke-width="0.22" >Gal+ASP-BBR-PM@HNK</text>
<text transform="translate(555.90,362.00) scale(1.000,1)" font-size="11.2" font-weight="bold" text-anchor="start" fill="#111" stroke="#111" stroke-width="0.22" >Free HNK</text>
<text transform="translate(554.40,400.80) scale(1.000,1)" font-size="11.2" font-weight="bold" text-anchor="start" fill="#111" stroke="#111" stroke-width="0.22" >Normal Saline</text>
</svg>
</body></html>
